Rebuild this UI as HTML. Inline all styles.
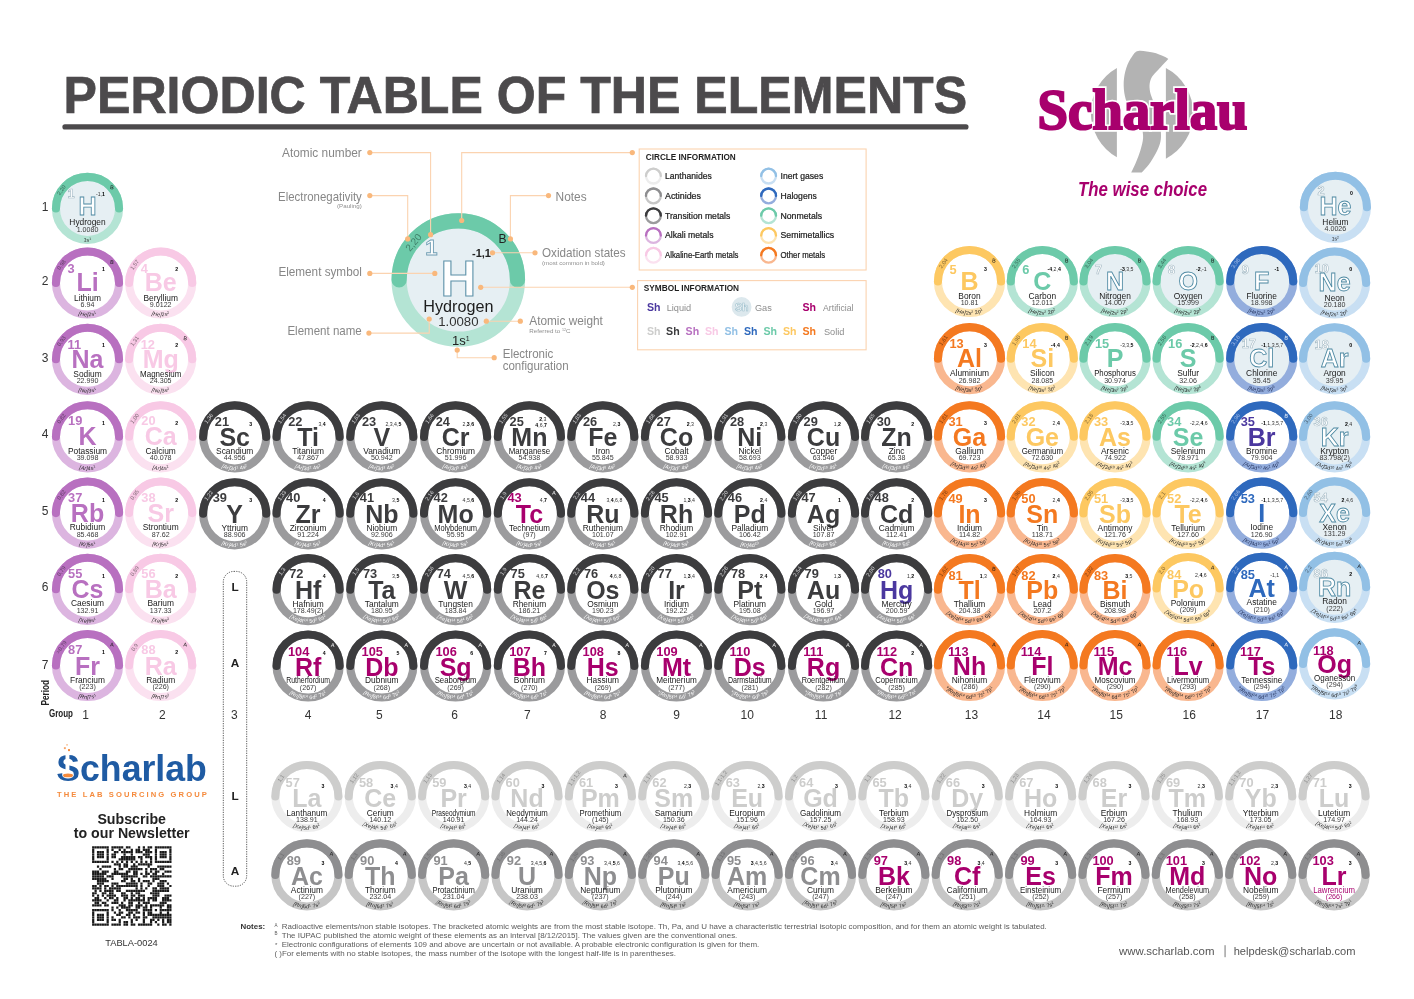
<!DOCTYPE html>
<html lang="en"><head><meta charset="utf-8"><title>Periodic Table of the Elements</title>
<style>
html,body{margin:0;padding:0;background:#fff}
body{width:1414px;height:999px;overflow:hidden;font-family:"Liberation Sans",sans-serif}
svg{display:block;will-change:transform;font-family:"Liberation Sans",sans-serif}
.r{stroke-width:8.1}
.a{stroke-width:8.1;fill:none;stroke-linecap:round}
.n{font-weight:bold;font-size:12.8px}
.s{font-weight:bold;font-size:25px;text-anchor:middle}
.g{fill:#fff;stroke:#4f8aa3;stroke-width:.85;paint-order:normal}
.n.g{stroke-width:.6;stroke:#a3b9c4}
.m{font-size:8.4px;text-anchor:middle;fill:#1a1a1a}
.w{font-size:7.1px;text-anchor:middle;fill:#3a3a3a}
.o{font-size:5.2px;text-anchor:end;fill:#333}
.b{font-weight:bold;fill:#000}
.e{font-size:5.5px;text-anchor:middle;fill:rgba(0,0,0,.5)}
.t{font-size:5.4px;text-anchor:middle}
.c{font-size:5.3px;letter-spacing:.18px;text-anchor:middle}
.i{font-style:italic}
</style></head><body>
<svg width="1414" height="999" viewBox="0 0 1414 999">
<defs><path id="ar" class="a" d="M-31.55 0A31.55 31.55 0 0 1 31.55 0"/><path id="cp" d="M-33.3 0A33.3 33.3 0 0 0 33.3 0"/></defs>
<text x="63.6" y="112.6" font-size="51.2" font-weight="bold" fill="#4c4a4c" stroke="#4c4a4c" stroke-width=".7" textLength="903.5" lengthAdjust="spacingAndGlyphs">PERIODIC TABLE OF THE ELEMENTS</text>
<line x1="64.9" y1="126.9" x2="966" y2="126.9" stroke="#4c4a4c" stroke-width="5.1" stroke-linecap="round"/>
<g fill="#b3b3b3">
<path d="M1116.9 68.0A51.2 51.2 0 0 0 1116.9 157.2Z"/>
<path d="M1165.9 68.1A51.2 51.2 0 0 1 1165.9 158.7Z"/>
<path d="M1131.2 172.5C1132.0 170.8 1134.6 165.6 1136.1 162.0C1137.6 158.4 1139.1 154.8 1140.3 150.8C1141.5 146.8 1142.9 142.1 1143.1 138.1C1143.3 134.1 1142.5 130.2 1141.7 126.9C1140.9 123.6 1140.3 121.8 1138.2 118.5C1136.1 115.2 1131.3 111.0 1129.1 107.3C1126.9 103.6 1125.8 100.3 1124.9 96.1C1124.0 91.9 1123.5 86.8 1123.7 82.1C1123.9 77.4 1124.9 72.2 1126.3 68.0C1127.7 63.8 1129.9 59.6 1131.9 56.8C1133.9 53.9 1134.7 51.6 1138.2 50.9C1141.7 50.2 1148.6 51.7 1152.9 52.6C1157.2 53.5 1161.5 55.5 1164.1 56.5C1166.7 57.5 1167.6 58.5 1168.3 58.9C1166.7 60.6 1161.2 66.5 1158.5 69.4C1155.8 72.3 1153.7 74.2 1152.2 76.5C1150.7 78.8 1150.1 80.9 1149.7 83.5C1149.3 86.1 1149.6 89.1 1150.1 91.9C1150.6 94.7 1151.9 97.3 1152.9 100.3C1154.0 103.3 1155.2 106.1 1156.4 110.1C1157.6 114.1 1159.1 119.9 1159.9 124.1C1160.7 128.3 1161.0 132.0 1161.0 135.3C1161.0 138.6 1160.8 140.6 1159.9 143.7C1159.0 146.8 1157.6 150.1 1155.7 153.6C1153.8 157.1 1151.0 161.7 1148.7 164.8C1146.4 168.0 1142.9 171.2 1141.7 172.5Z"/>
</g>
<text x="1037.5" y="129.3" font-family="'Liberation Serif',serif" font-weight="bold" font-size="58" fill="#a8006d" stroke="#fff" stroke-width="5.5" paint-order="stroke" textLength="210" lengthAdjust="spacingAndGlyphs">Scharlau</text>
<text x="1037.5" y="129.3" font-family="'Liberation Serif',serif" font-weight="bold" font-size="58" fill="#a8006d" stroke="#a8006d" stroke-width="2.2" stroke-linejoin="miter" textLength="210" lengthAdjust="spacingAndGlyphs">Scharlau</text>
<text x="1078" y="196" font-weight="bold" font-style="italic" font-size="19.5" fill="#a8006d" textLength="129" lengthAdjust="spacingAndGlyphs">The wise choice</text>
<g transform="translate(458.3,280)">
<circle r="59.19" fill="#e6eff3" stroke="#b4e4d4" stroke-width="15.2"/>
<path d="M-59.19 0A59.19 59.19 0 0 1 59.19 0" fill="none" stroke="#6ccaa9" stroke-width="15.2" stroke-linecap="round"/>
<text x="-33" y="-25" font-size="22" font-weight="bold" fill="#fff" stroke="#6f9db3" stroke-width=".9">1</text>
<text y="16" font-size="49.5" font-weight="bold" text-anchor="middle" fill="#fff" stroke="#5f93aa" stroke-width="1.1">H</text>
<text y="32.2" font-size="16.2" text-anchor="middle" fill="#1c1c1c">Hydrogen</text>
<text y="45.8" font-size="13.2" text-anchor="middle" fill="#333">1.0080</text>
<text x="32.7" y="-23" font-size="11" text-anchor="end" fill="#222" font-weight="bold">-1,1</text>
<text transform="rotate(-50)" y="-55" font-size="10" text-anchor="middle" fill="#3f7f68">2,20</text>
<text x="44.3" y="-37" font-size="12" text-anchor="middle" fill="#222">B</text>
<text x="2.5" y="64.8" font-size="13" text-anchor="middle" fill="#222">1s<tspan dy="-4" font-size="7">1</tspan></text>
</g>
<g fill="none" stroke="#fbd3b0" stroke-width="1.1">
<path d="M369.8 152.6H430.6V234.7"/>
<path d="M369.8 195.6H407.7V238.9"/>
<path d="M369.8 273.4H434.8"/>
<path d="M368.9 333.1H429.2V319"/>
<path d="M461.7 220.5V152.6H632.3"/>
<path d="M548.5 195.6H510.4V238.9"/>
<path d="M535 252.8H492.5"/>
<path d="M480.7 287.3H632.3"/>
<path d="M520.3 321.2H486.3"/>
<path d="M457.2 350.1V357.7H494.2"/>
<rect x="639.2" y="149" width="226.9" height="121"/>
<rect x="637.6" y="280.6" width="228.5" height="69.2"/>
</g>
<g fill="#f9b87c">
<circle cx="369.8" cy="152.6" r="2.6"/>
<circle cx="430.6" cy="234.7" r="2.6"/>
<circle cx="369.8" cy="195.6" r="2.6"/>
<circle cx="407.7" cy="238.9" r="2.6"/>
<circle cx="369.8" cy="273.4" r="2.6"/>
<circle cx="434.8" cy="273.4" r="2.6"/>
<circle cx="368.9" cy="333.1" r="2.6"/>
<circle cx="429.2" cy="319" r="2.6"/>
<circle cx="461.7" cy="220.5" r="2.6"/>
<circle cx="632.3" cy="152.6" r="2.6"/>
<circle cx="548.5" cy="195.6" r="2.6"/>
<circle cx="510.4" cy="238.9" r="2.6"/>
<circle cx="535" cy="252.8" r="2.6"/>
<circle cx="492.5" cy="252.8" r="2.6"/>
<circle cx="480.7" cy="287.3" r="2.6"/>
<circle cx="632.3" cy="287.3" r="2.6"/>
<circle cx="520.3" cy="321.2" r="2.6"/>
<circle cx="486.3" cy="321.2" r="2.6"/>
<circle cx="457.2" cy="350.1" r="2.6"/>
<circle cx="494.2" cy="357.7" r="2.6"/>
</g>
<g font-size="12.8" fill="#878787">
<text x="361.8" y="157.4" text-anchor="end" textLength="79.8" lengthAdjust="spacingAndGlyphs">Atomic number</text>
<text x="361.8" y="200.7" text-anchor="end" textLength="83.7" lengthAdjust="spacingAndGlyphs">Electronegativity</text>
<text x="361.8" y="275.7" text-anchor="end" textLength="83.4" lengthAdjust="spacingAndGlyphs">Element symbol</text>
<text x="361.8" y="335.1" text-anchor="end" textLength="74.4" lengthAdjust="spacingAndGlyphs">Element name</text>
<text x="555.6" y="200.7" textLength="31.1" lengthAdjust="spacingAndGlyphs">Notes</text>
<text x="542" y="256.7" textLength="83.7" lengthAdjust="spacingAndGlyphs">Oxidation states</text>
<text x="529.3" y="325.2" textLength="73.5" lengthAdjust="spacingAndGlyphs">Atomic weight</text>
<text x="502.7" y="357.9" textLength="50.6" lengthAdjust="spacingAndGlyphs">Electronic</text>
<text x="502.7" y="369.7" textLength="66" lengthAdjust="spacingAndGlyphs">configuration</text>
</g>
<g font-size="6.2" fill="#8f8f8f">
<text x="361.8" y="208.2" text-anchor="end">(Pauling)</text>
<text x="542" y="264.6">(most common in bold)</text>
<text x="529.3" y="332.9">Referred to <tspan dy="-1.6" font-size="3.6">12</tspan><tspan dy="1.6">C</tspan></text>
</g>
<text x="645.8" y="159.8" font-size="8.2" font-weight="bold" fill="#1e1e1e" textLength="90" lengthAdjust="spacingAndGlyphs">CIRCLE INFORMATION</text>
<text x="643.8" y="290.8" font-size="8.2" font-weight="bold" fill="#1e1e1e" textLength="95.3" lengthAdjust="spacingAndGlyphs">SYMBOL INFORMATION</text>
<g transform="translate(653.4,176.1)" fill="none" stroke-width="2.3"><circle r="7.4" stroke="#ededed"/><path d="M-7.4 0A7.4 7.4 0 0 1 7.4 0" stroke="#cdcdcc" stroke-linecap="round"/></g>
<text x="665" y="179" font-size="8.2" fill="#222" stroke="#222" stroke-width=".22" textLength="46.7" lengthAdjust="spacingAndGlyphs">Lanthanides</text>
<g transform="translate(653.4,195.9)" fill="none" stroke-width="2.3"><circle r="7.4" stroke="#c6c6c6"/><path d="M-7.4 0A7.4 7.4 0 0 1 7.4 0" stroke="#8e8e90" stroke-linecap="round"/></g>
<text x="665" y="198.8" font-size="8.2" fill="#222" stroke="#222" stroke-width=".22" textLength="36" lengthAdjust="spacingAndGlyphs">Actinides</text>
<g transform="translate(653.4,215.7)" fill="none" stroke-width="2.3"><circle r="7.4" stroke="#9b9b9d"/><path d="M-7.4 0A7.4 7.4 0 0 1 7.4 0" stroke="#3c3c3e" stroke-linecap="round"/></g>
<text x="665" y="218.6" font-size="8.2" fill="#222" stroke="#222" stroke-width=".22" textLength="65.3" lengthAdjust="spacingAndGlyphs">Transition metals</text>
<g transform="translate(653.4,235.5)" fill="none" stroke-width="2.3"><circle r="7.4" stroke="#dcb5e0"/><path d="M-7.4 0A7.4 7.4 0 0 1 7.4 0" stroke="#b870c0" stroke-linecap="round"/></g>
<text x="665" y="238.4" font-size="8.2" fill="#222" stroke="#222" stroke-width=".22" textLength="48.6" lengthAdjust="spacingAndGlyphs">Alkali metals</text>
<g transform="translate(653.4,255.3)" fill="none" stroke-width="2.3"><circle r="7.4" stroke="#fbe1f0"/><path d="M-7.4 0A7.4 7.4 0 0 1 7.4 0" stroke="#f8c9e5" stroke-linecap="round"/></g>
<text x="665" y="258.2" font-size="8.2" fill="#222" stroke="#222" stroke-width=".22" textLength="73.5" lengthAdjust="spacingAndGlyphs">Alkaline-Earth metals</text>
<g transform="translate(768.6,176.1)" fill="none" stroke-width="2.3"><circle r="7.4" stroke="#c8dff3"/><path d="M-7.4 0A7.4 7.4 0 0 1 7.4 0" stroke="#92c0e5" stroke-linecap="round"/></g>
<text x="780.5" y="179" font-size="8.2" fill="#222" stroke="#222" stroke-width=".22" textLength="42.7" lengthAdjust="spacingAndGlyphs">Inert gases</text>
<g transform="translate(768.6,195.9)" fill="none" stroke-width="2.3"><circle r="7.4" stroke="#93addd"/><path d="M-7.4 0A7.4 7.4 0 0 1 7.4 0" stroke="#2e69bd" stroke-linecap="round"/></g>
<text x="780.5" y="198.8" font-size="8.2" fill="#222" stroke="#222" stroke-width=".22" textLength="36.2" lengthAdjust="spacingAndGlyphs">Halogens</text>
<g transform="translate(768.6,215.7)" fill="none" stroke-width="2.3"><circle r="7.4" stroke="#b4e4d4"/><path d="M-7.4 0A7.4 7.4 0 0 1 7.4 0" stroke="#6ccaa9" stroke-linecap="round"/></g>
<text x="780.5" y="218.6" font-size="8.2" fill="#222" stroke="#222" stroke-width=".22" textLength="41.6" lengthAdjust="spacingAndGlyphs">Nonmetals</text>
<g transform="translate(768.6,235.5)" fill="none" stroke-width="2.3"><circle r="7.4" stroke="#fee4b1"/><path d="M-7.4 0A7.4 7.4 0 0 1 7.4 0" stroke="#fdc861" stroke-linecap="round"/></g>
<text x="780.5" y="238.4" font-size="8.2" fill="#222" stroke="#222" stroke-width=".22" textLength="53.7" lengthAdjust="spacingAndGlyphs">Semimetallics</text>
<g transform="translate(768.6,255.3)" fill="none" stroke-width="2.3"><circle r="7.4" stroke="#f9b78f"/><path d="M-7.4 0A7.4 7.4 0 0 1 7.4 0" stroke="#f47920" stroke-linecap="round"/></g>
<text x="780.5" y="258.2" font-size="8.2" fill="#222" stroke="#222" stroke-width=".22" textLength="44.7" lengthAdjust="spacingAndGlyphs">Other metals</text>
<g font-size="10.6" font-weight="bold">
<text x="646.9" y="311" fill="#4b389f">Sh</text>
<circle cx="741.6" cy="306.9" r="9.9" fill="#dce8ed"/>
<text x="734.9" y="311" fill="#f4f8fa" stroke="#9dbfcc" stroke-width=".6">Sh</text>
<text x="802.5" y="311" fill="#a8006d">Sh</text>
<text x="646.9" y="335" fill="#cdcdcc">Sh</text>
<text x="666.1" y="335" fill="#3c3c3e">Sh</text>
<text x="685.6" y="335" fill="#b870c0">Sh</text>
<text x="704.9" y="335" fill="#f8c9e5">Sh</text>
<text x="724.4" y="335" fill="#92c0e5">Sh</text>
<text x="743.9" y="335" fill="#2e69bd">Sh</text>
<text x="763.4" y="335" fill="#6ccaa9">Sh</text>
<text x="782.9" y="335" fill="#fdc861">Sh</text>
<text x="802.5" y="335" fill="#f47920">Sh</text>
</g>
<g font-size="9.2" fill="#8c8c8c">
<text x="666.7" y="311">Liquid</text>
<text x="754.9" y="311">Gas</text>
<text x="823.1" y="311" textLength="30.3" lengthAdjust="spacingAndGlyphs">Artificial</text>
<text x="823.9" y="335.2">Solid</text>
</g>
<g transform="translate(87.5,208.4)"><circle r="31.55" class="r" stroke="#b4e4d4" fill="#e6eff3"/><use href="#ar" stroke="#6ccaa9"/><text class="n g" x="-20" y="-10.3">1</text><text class="s g" y="6.9">H</text><text class="m" y="16.7">Hydrogen</text><text class="w" y="23.5">1.0080</text><text class="o" x="17.5" y="-12.2">-1,<tspan class="b">1</tspan></text><text class="e" transform="rotate(-55)" y="-30">2,20</text><text class="t" transform="translate(24.5,-20.8) rotate(6)" y="1.7" fill="#111">B</text><text class="c" fill="#222"><textPath href="#cp" startOffset="50%">1s<tspan dy="-1.7" font-size="3.6">1</tspan></textPath></text></g>
<g transform="translate(1335.4,207.3)"><circle r="31.55" class="r" stroke="#c8dff3" fill="#e6eff3"/><use href="#ar" stroke="#92c0e5"/><text class="n g" x="-17.9" y="-12">2</text><text class="s g" y="7.7">He</text><text class="m" y="17.4">Helium</text><text class="w" y="23.7">4.0026</text><text class="o" x="17.5" y="-12.2"><tspan class="b">0</tspan></text><text class="c" fill="#222"><textPath href="#cp" startOffset="50%">1s<tspan dy="-1.7" font-size="3.6">2</tspan></textPath></text></g>
<g transform="translate(87.5,283)"><circle r="31.55" class="r" stroke="#dcb5e0" fill="#fff"/><use href="#ar" stroke="#b870c0"/><text class="n" fill="#b870c0" x="-20" y="-10.3">3</text><text class="s" fill="#b870c0" y="8.2">Li</text><text class="m" y="17.6">Lithium</text><text class="w" y="24">6.94</text><text class="o" x="17.5" y="-12.2"><tspan class="b">1</tspan></text><text class="e" transform="rotate(-55)" y="-30">0,98</text><text class="t" transform="translate(24.5,-20.8) rotate(6)" y="1.7" fill="#111">B</text><text class="c" fill="#222"><textPath href="#cp" startOffset="50%"><tspan class="i">[He]</tspan>2s<tspan dy="-1.7" font-size="3.6">1</tspan></textPath></text></g>
<g transform="translate(160.7,283)"><circle r="31.55" class="r" stroke="#fbe1f0" fill="#fff"/><use href="#ar" stroke="#f8c9e5"/><text class="n" fill="#f8c9e5" x="-20" y="-10.3">4</text><text class="s" fill="#f8c9e5" y="8.2">Be</text><text class="m" y="17.6">Beryllium</text><text class="w" y="24">9.0122</text><text class="o" x="17.5" y="-12.2"><tspan class="b">2</tspan></text><text class="e" transform="rotate(-55)" y="-30">1,57</text><text class="c" fill="#222"><textPath href="#cp" startOffset="50%"><tspan class="i">[He]</tspan>2s<tspan dy="-1.7" font-size="3.6">2</tspan></textPath></text></g>
<g transform="translate(969.5,281.5)"><circle r="31.55" class="r" stroke="#fee4b1" fill="#fff"/><use href="#ar" stroke="#fdc861"/><text class="n" fill="#fdc861" x="-20" y="-7.9">5</text><text class="s" fill="#fdc861" y="8.9">B</text><text class="m" y="17.9">Boron</text><text class="w" y="23">10.81</text><text class="o" x="17.5" y="-10.2"><tspan class="b">3</tspan></text><text class="e" transform="rotate(-55)" y="-30">2,04</text><text class="t" transform="translate(24.5,-20.8) rotate(6)" y="1.7" fill="#111">B</text><text class="c" fill="#222"><textPath href="#cp" startOffset="50%"><tspan class="i">[He]</tspan>2s<tspan dy="-1.7" font-size="3.6">2</tspan><tspan dy="1.7"> 2p</tspan><tspan dy="-1.7" font-size="3.6">1</tspan></textPath></text></g>
<g transform="translate(1042.3,281.5)"><circle r="31.55" class="r" stroke="#b4e4d4" fill="#fff"/><use href="#ar" stroke="#6ccaa9"/><text class="n" fill="#6ccaa9" x="-20" y="-7.9">6</text><text class="s" fill="#6ccaa9" y="8.9">C</text><text class="m" y="17.9">Carbon</text><text class="w" y="23">12.011</text><text class="o" x="18.5" y="-10.2"><tspan class="b">-4</tspan>,2,<tspan class="b">4</tspan></text><text class="e" transform="rotate(-55)" y="-30">2,55</text><text class="t" transform="translate(24.5,-20.8) rotate(6)" y="1.7" fill="#111">B</text><text class="c" fill="#222"><textPath href="#cp" startOffset="50%"><tspan class="i">[He]</tspan>2s<tspan dy="-1.7" font-size="3.6">2</tspan><tspan dy="1.7"> 2p</tspan><tspan dy="-1.7" font-size="3.6">2</tspan></textPath></text></g>
<g transform="translate(1115,281.5)"><circle r="31.55" class="r" stroke="#b4e4d4" fill="#e6eff3"/><use href="#ar" stroke="#6ccaa9"/><text class="n g" x="-20" y="-7.9">7</text><text class="s g" y="8.9">N</text><text class="m" y="17.9">Nitrogen</text><text class="w" y="23">14.007</text><text class="o" x="18.5" y="-10.2"><tspan class="b">-3</tspan>,3,5</text><text class="e" transform="rotate(-55)" y="-30">3,04</text><text class="t" transform="translate(24.5,-20.8) rotate(6)" y="1.7" fill="#111">B</text><text class="c" fill="#222"><textPath href="#cp" startOffset="50%"><tspan class="i">[He]</tspan>2s<tspan dy="-1.7" font-size="3.6">2</tspan><tspan dy="1.7"> 2p</tspan><tspan dy="-1.7" font-size="3.6">3</tspan></textPath></text></g>
<g transform="translate(1188.1,281.5)"><circle r="31.55" class="r" stroke="#b4e4d4" fill="#e6eff3"/><use href="#ar" stroke="#6ccaa9"/><text class="n g" x="-20" y="-7.9">8</text><text class="s g" y="8.9">O</text><text class="m" y="17.9">Oxygen</text><text class="w" y="23">15.999</text><text class="o" x="18.5" y="-10.2"><tspan class="b">-2</tspan>,-1</text><text class="e" transform="rotate(-55)" y="-30">3,44</text><text class="t" transform="translate(24.5,-20.8) rotate(6)" y="1.7" fill="#111">B</text><text class="c" fill="#222"><textPath href="#cp" startOffset="50%"><tspan class="i">[He]</tspan>2s<tspan dy="-1.7" font-size="3.6">2</tspan><tspan dy="1.7"> 2p</tspan><tspan dy="-1.7" font-size="3.6">4</tspan></textPath></text></g>
<g transform="translate(1261.7,281.5)"><circle r="31.55" class="r" stroke="#93addd" fill="#e6eff3"/><use href="#ar" stroke="#2e69bd"/><text class="n g" x="-20" y="-7.9">9</text><text class="s g" y="8.9">F</text><text class="m" y="17.9">Fluorine</text><text class="w" y="23">18.998</text><text class="o" x="17.5" y="-10.2"><tspan class="b">-1</tspan></text><text class="e" transform="rotate(-55)" y="-30" style="fill:#9fb9e6">3,98</text><text class="c" fill="#1d2b55"><textPath href="#cp" startOffset="50%"><tspan class="i">[He]</tspan>2s<tspan dy="-1.7" font-size="3.6">2</tspan><tspan dy="1.7"> 2p</tspan><tspan dy="-1.7" font-size="3.6">5</tspan></textPath></text></g>
<g transform="translate(1334.6,283)"><circle r="31.55" class="r" stroke="#c8dff3" fill="#e6eff3"/><use href="#ar" stroke="#92c0e5"/><text class="n g" x="-20" y="-10.3">10</text><text class="s g" y="8.2">Ne</text><text class="m" y="17.6">Neon</text><text class="w" y="24">20.180</text><text class="o" x="17.5" y="-12.2"><tspan class="b">0</tspan></text><text class="c" fill="#222"><textPath href="#cp" startOffset="50%"><tspan class="i">[He]</tspan>2s<tspan dy="-1.7" font-size="3.6">2</tspan><tspan dy="1.7"> 2p</tspan><tspan dy="-1.7" font-size="3.6">6</tspan></textPath></text></g>
<g transform="translate(87.5,359.3)"><circle r="31.55" class="r" stroke="#dcb5e0" fill="#fff"/><use href="#ar" stroke="#b870c0"/><text class="n" fill="#b870c0" x="-20" y="-10.3">11</text><text class="s" fill="#b870c0" y="8.2">Na</text><text class="m" y="17.6">Sodium</text><text class="w" y="24">22.990</text><text class="o" x="17.5" y="-12.2"><tspan class="b">1</tspan></text><text class="e" transform="rotate(-55)" y="-30">0,93</text><text class="c" fill="#222"><textPath href="#cp" startOffset="50%"><tspan class="i">[Ne]</tspan>3s<tspan dy="-1.7" font-size="3.6">1</tspan></textPath></text></g>
<g transform="translate(160.7,359.3)"><circle r="31.55" class="r" stroke="#fbe1f0" fill="#fff"/><use href="#ar" stroke="#f8c9e5"/><text class="n" fill="#f8c9e5" x="-20" y="-10.3">12</text><text class="s" fill="#f8c9e5" y="8.2">Mg</text><text class="m" y="17.6" textLength="41.2" lengthAdjust="spacingAndGlyphs">Magnesium</text><text class="w" y="24">24.305</text><text class="o" x="17.5" y="-12.2"><tspan class="b">2</tspan></text><text class="e" transform="rotate(-55)" y="-30">1,31</text><text class="t" transform="translate(24.5,-20.8) rotate(6)" y="1.7" fill="#111">B</text><text class="c" fill="#222"><textPath href="#cp" startOffset="50%"><tspan class="i">[Ne]</tspan>3s<tspan dy="-1.7" font-size="3.6">2</tspan></textPath></text></g>
<g transform="translate(969.5,358.7)"><circle r="31.55" class="r" stroke="#f9b78f" fill="#fff"/><use href="#ar" stroke="#f47920"/><text class="n" fill="#f47920" x="-20" y="-10.3">13</text><text class="s" fill="#f47920" y="8.2">Al</text><text class="m" y="17.6">Aluminium</text><text class="w" y="24">26.982</text><text class="o" x="17.5" y="-12.2"><tspan class="b">3</tspan></text><text class="e" transform="rotate(-55)" y="-30">1,61</text><text class="c" fill="#222"><textPath href="#cp" startOffset="50%"><tspan class="i">[Ne]</tspan>3s<tspan dy="-1.7" font-size="3.6">2</tspan><tspan dy="1.7"> 3p</tspan><tspan dy="-1.7" font-size="3.6">1</tspan></textPath></text></g>
<g transform="translate(1042.3,358.7)"><circle r="31.55" class="r" stroke="#fee4b1" fill="#fff"/><use href="#ar" stroke="#fdc861"/><text class="n" fill="#fdc861" x="-20" y="-10.3">14</text><text class="s" fill="#fdc861" y="8.2">Si</text><text class="m" y="17.6">Silicon</text><text class="w" y="24">28.085</text><text class="o" x="17.5" y="-12.2"><tspan class="b">-4</tspan>,<tspan class="b">4</tspan></text><text class="e" transform="rotate(-55)" y="-30">1,90</text><text class="t" transform="translate(24.5,-20.8) rotate(6)" y="1.7" fill="#111">B</text><text class="c" fill="#222"><textPath href="#cp" startOffset="50%"><tspan class="i">[Ne]</tspan>3s<tspan dy="-1.7" font-size="3.6">2</tspan><tspan dy="1.7"> 3p</tspan><tspan dy="-1.7" font-size="3.6">2</tspan></textPath></text></g>
<g transform="translate(1115,358.7)"><circle r="31.55" class="r" stroke="#b4e4d4" fill="#fff"/><use href="#ar" stroke="#6ccaa9"/><text class="n" fill="#6ccaa9" x="-20" y="-10.3">15</text><text class="s" fill="#6ccaa9" y="8.2">P</text><text class="m" y="17.6" textLength="41.69" lengthAdjust="spacingAndGlyphs">Phosphorus</text><text class="w" y="24">30.974</text><text class="o" x="18.5" y="-12.2">-3,3,<tspan class="b">5</tspan></text><text class="e" transform="rotate(-55)" y="-30">2,19</text><text class="c" fill="#222"><textPath href="#cp" startOffset="50%"><tspan class="i">[Ne]</tspan>3s<tspan dy="-1.7" font-size="3.6">2</tspan><tspan dy="1.7"> 3p</tspan><tspan dy="-1.7" font-size="3.6">3</tspan></textPath></text></g>
<g transform="translate(1188.1,358.7)"><circle r="31.55" class="r" stroke="#b4e4d4" fill="#fff"/><use href="#ar" stroke="#6ccaa9"/><text class="n" fill="#6ccaa9" x="-20" y="-10.3">16</text><text class="s" fill="#6ccaa9" y="8.2">S</text><text class="m" y="17.6">Sulfur</text><text class="w" y="24">32.06</text><text class="o" x="19.5" y="-12.2"><tspan class="b">-2</tspan>,2,4,<tspan class="b">6</tspan></text><text class="e" transform="rotate(-55)" y="-30">2,58</text><text class="t" transform="translate(24.5,-20.8) rotate(6)" y="1.7" fill="#111">B</text><text class="c" fill="#222"><textPath href="#cp" startOffset="50%"><tspan class="i">[Ne]</tspan>3s<tspan dy="-1.7" font-size="3.6">2</tspan><tspan dy="1.7"> 3p</tspan><tspan dy="-1.7" font-size="3.6">4</tspan></textPath></text></g>
<g transform="translate(1261.7,358.7)"><circle r="31.55" class="r" stroke="#93addd" fill="#e6eff3"/><use href="#ar" stroke="#2e69bd"/><text class="n g" x="-20" y="-10.3">17</text><text class="s g" y="8.2">Cl</text><text class="m" y="17.6">Chlorine</text><text class="w" y="24">35.45</text><text class="o" x="21.5" y="-12.2"><tspan class="b">-1</tspan>,1,3,5,7</text><text class="e" transform="rotate(-55)" y="-30" style="fill:#9fb9e6">3,16</text><text class="t" transform="translate(24.5,-20.8) rotate(6)" y="1.7" fill="#fff">B</text><text class="c" fill="#1d2b55"><textPath href="#cp" startOffset="50%"><tspan class="i">[Ne]</tspan>3s<tspan dy="-1.7" font-size="3.6">2</tspan><tspan dy="1.7"> 3p</tspan><tspan dy="-1.7" font-size="3.6">5</tspan></textPath></text></g>
<g transform="translate(1334.6,358.8)"><circle r="31.55" class="r" stroke="#c8dff3" fill="#e6eff3"/><use href="#ar" stroke="#92c0e5"/><text class="n g" x="-20" y="-10.3">18</text><text class="s g" y="8.2">Ar</text><text class="m" y="17.6">Argon</text><text class="w" y="24">39.95</text><text class="o" x="17.5" y="-12.2"><tspan class="b">0</tspan></text><text class="c" fill="#222"><textPath href="#cp" startOffset="50%"><tspan class="i">[Ne]</tspan>3s<tspan dy="-1.7" font-size="3.6">2</tspan><tspan dy="1.7"> 3p</tspan><tspan dy="-1.7" font-size="3.6">6</tspan></textPath></text></g>
<g transform="translate(87.5,436.8)"><circle r="31.55" class="r" stroke="#dcb5e0" fill="#fff"/><use href="#ar" stroke="#b870c0"/><text class="n" fill="#b870c0" x="-19.4" y="-11.5">19</text><text class="s" fill="#b870c0" y="8.4">K</text><text class="m" y="17.1">Potassium</text><text class="w" y="23.6">39.098</text><text class="o" x="17.5" y="-11.4"><tspan class="b">1</tspan></text><text class="e" transform="rotate(-55)" y="-30">0,82</text><text class="c" fill="#222"><textPath href="#cp" startOffset="50%"><tspan class="i">[Ar]</tspan>4s<tspan dy="-1.7" font-size="3.6">1</tspan></textPath></text></g>
<g transform="translate(160.7,436.8)"><circle r="31.55" class="r" stroke="#fbe1f0" fill="#fff"/><use href="#ar" stroke="#f8c9e5"/><text class="n" fill="#f8c9e5" x="-19.4" y="-11.5">20</text><text class="s" fill="#f8c9e5" y="8.4">Ca</text><text class="m" y="17.1">Calcium</text><text class="w" y="23.6">40.078</text><text class="o" x="17.5" y="-11.4"><tspan class="b">2</tspan></text><text class="e" transform="rotate(-55)" y="-30">1,00</text><text class="c" fill="#222"><textPath href="#cp" startOffset="50%"><tspan class="i">[Ar]</tspan>4s<tspan dy="-1.7" font-size="3.6">2</tspan></textPath></text></g>
<g transform="translate(234.7,436.9)"><circle r="31.55" class="r" stroke="#9b9b9d" fill="#fff"/><use href="#ar" stroke="#3c3c3e"/><text class="n" fill="#3c3c3e" x="-19.9" y="-10.5">21</text><text class="s" fill="#3c3c3e" y="9.2">Sc</text><text class="m" y="17.1">Scandium</text><text class="w" y="23.6">44.956</text><text class="o" x="17.5" y="-11.4"><tspan class="b">3</tspan></text><text class="e" transform="rotate(-55)" y="-30" style="fill:#d6d6d8">1,36</text><text class="c" fill="#fff"><textPath href="#cp" startOffset="50%"><tspan class="i">[Ar]</tspan>3d<tspan dy="-1.7" font-size="3.6">1</tspan><tspan dy="1.7"> 4s</tspan><tspan dy="-1.7" font-size="3.6">2</tspan></textPath></text></g>
<g transform="translate(308.1,436.9)"><circle r="31.55" class="r" stroke="#9b9b9d" fill="#fff"/><use href="#ar" stroke="#3c3c3e"/><text class="n" fill="#3c3c3e" x="-19.9" y="-10.5">22</text><text class="s" fill="#3c3c3e" y="9.2">Ti</text><text class="m" y="17.1">Titanium</text><text class="w" y="23.6">47.867</text><text class="o" x="17.5" y="-11.4">3,<tspan class="b">4</tspan></text><text class="e" transform="rotate(-55)" y="-30" style="fill:#d6d6d8">1,54</text><text class="c" fill="#fff"><textPath href="#cp" startOffset="50%"><tspan class="i">[Ar]</tspan>3d<tspan dy="-1.7" font-size="3.6">2</tspan><tspan dy="1.7"> 4s</tspan><tspan dy="-1.7" font-size="3.6">2</tspan></textPath></text></g>
<g transform="translate(381.8,436.9)"><circle r="31.55" class="r" stroke="#9b9b9d" fill="#fff"/><use href="#ar" stroke="#3c3c3e"/><text class="n" fill="#3c3c3e" x="-19.9" y="-10.5">23</text><text class="s" fill="#3c3c3e" y="9.2">V</text><text class="m" y="17.1">Vanadium</text><text class="w" y="23.6">50.942</text><text class="o" x="19.5" y="-11.4">2,3,4,<tspan class="b">5</tspan></text><text class="e" transform="rotate(-55)" y="-30" style="fill:#d6d6d8">1,63</text><text class="c" fill="#fff"><textPath href="#cp" startOffset="50%"><tspan class="i">[Ar]</tspan>3d<tspan dy="-1.7" font-size="3.6">3</tspan><tspan dy="1.7"> 4s</tspan><tspan dy="-1.7" font-size="3.6">2</tspan></textPath></text></g>
<g transform="translate(455.6,436.9)"><circle r="31.55" class="r" stroke="#9b9b9d" fill="#fff"/><use href="#ar" stroke="#3c3c3e"/><text class="n" fill="#3c3c3e" x="-19.9" y="-10.5">24</text><text class="s" fill="#3c3c3e" y="9.2">Cr</text><text class="m" y="17.1">Chromium</text><text class="w" y="23.6">51.996</text><text class="o" x="18.5" y="-11.4">2,<tspan class="b">3</tspan>,<tspan class="b">6</tspan></text><text class="e" transform="rotate(-55)" y="-30" style="fill:#d6d6d8">1,66</text><text class="c" fill="#fff"><textPath href="#cp" startOffset="50%"><tspan class="i">[Ar]</tspan>3d<tspan dy="-1.7" font-size="3.6">5</tspan><tspan dy="1.7"> 4s</tspan><tspan dy="-1.7" font-size="3.6">1</tspan></textPath></text></g>
<g transform="translate(529.4,436.9)"><circle r="31.55" class="r" stroke="#9b9b9d" fill="#fff"/><use href="#ar" stroke="#3c3c3e"/><text class="n" fill="#3c3c3e" x="-19.9" y="-10.5">25</text><text class="s" fill="#3c3c3e" y="9.2">Mn</text><text class="m" y="17.1" textLength="41.36" lengthAdjust="spacingAndGlyphs">Manganese</text><text class="w" y="23.6">54.938</text><text class="o" x="17" y="-15.6"><tspan class="b">2</tspan>,3</text><text class="o" x="17.5" y="-10"><tspan class="b">4</tspan>,6,<tspan class="b">7</tspan></text><text class="e" transform="rotate(-55)" y="-30" style="fill:#d6d6d8">1,55</text><text class="c" fill="#fff"><textPath href="#cp" startOffset="50%"><tspan class="i">[Ar]</tspan>3d<tspan dy="-1.7" font-size="3.6">5</tspan><tspan dy="1.7"> 4s</tspan><tspan dy="-1.7" font-size="3.6">2</tspan></textPath></text></g>
<g transform="translate(602.8,436.9)"><circle r="31.55" class="r" stroke="#9b9b9d" fill="#fff"/><use href="#ar" stroke="#3c3c3e"/><text class="n" fill="#3c3c3e" x="-19.9" y="-10.5">26</text><text class="s" fill="#3c3c3e" y="9.2">Fe</text><text class="m" y="17.1">Iron</text><text class="w" y="23.6">55.845</text><text class="o" x="17.5" y="-11.4">2,<tspan class="b">3</tspan></text><text class="e" transform="rotate(-55)" y="-30" style="fill:#d6d6d8">1,83</text><text class="c" fill="#fff"><textPath href="#cp" startOffset="50%"><tspan class="i">[Ar]</tspan>3d<tspan dy="-1.7" font-size="3.6">6</tspan><tspan dy="1.7"> 4s</tspan><tspan dy="-1.7" font-size="3.6">2</tspan></textPath></text></g>
<g transform="translate(676.5,436.9)"><circle r="31.55" class="r" stroke="#9b9b9d" fill="#fff"/><use href="#ar" stroke="#3c3c3e"/><text class="n" fill="#3c3c3e" x="-19.9" y="-10.5">27</text><text class="s" fill="#3c3c3e" y="9.2">Co</text><text class="m" y="17.1">Cobalt</text><text class="w" y="23.6">58.933</text><text class="o" x="17.5" y="-11.4"><tspan class="b">2</tspan>,3</text><text class="e" transform="rotate(-55)" y="-30" style="fill:#d6d6d8">1,88</text><text class="c" fill="#fff"><textPath href="#cp" startOffset="50%"><tspan class="i">[Ar]</tspan>3d<tspan dy="-1.7" font-size="3.6">7</tspan><tspan dy="1.7"> 4s</tspan><tspan dy="-1.7" font-size="3.6">2</tspan></textPath></text></g>
<g transform="translate(749.8,436.9)"><circle r="31.55" class="r" stroke="#9b9b9d" fill="#fff"/><use href="#ar" stroke="#3c3c3e"/><text class="n" fill="#3c3c3e" x="-19.9" y="-10.5">28</text><text class="s" fill="#3c3c3e" y="9.2">Ni</text><text class="m" y="17.1">Nickel</text><text class="w" y="23.6">58.693</text><text class="o" x="17.5" y="-11.4"><tspan class="b">2</tspan>,3</text><text class="e" transform="rotate(-55)" y="-30" style="fill:#d6d6d8">1,91</text><text class="c" fill="#fff"><textPath href="#cp" startOffset="50%"><tspan class="i">[Ar]</tspan>3d<tspan dy="-1.7" font-size="3.6">8</tspan><tspan dy="1.7"> 4s</tspan><tspan dy="-1.7" font-size="3.6">2</tspan></textPath></text></g>
<g transform="translate(823.5,436.9)"><circle r="31.55" class="r" stroke="#9b9b9d" fill="#fff"/><use href="#ar" stroke="#3c3c3e"/><text class="n" fill="#3c3c3e" x="-19.9" y="-10.5">29</text><text class="s" fill="#3c3c3e" y="9.2">Cu</text><text class="m" y="17.1">Copper</text><text class="w" y="23.6">63.546</text><text class="o" x="17.5" y="-11.4">1,<tspan class="b">2</tspan></text><text class="e" transform="rotate(-55)" y="-30" style="fill:#d6d6d8">1,90</text><text class="c" fill="#fff"><textPath href="#cp" startOffset="50%"><tspan class="i">[Ar]</tspan>3d<tspan dy="-1.7" font-size="3.6">10</tspan><tspan dy="1.7"> 4s</tspan><tspan dy="-1.7" font-size="3.6">1</tspan></textPath></text></g>
<g transform="translate(896.6,436.9)"><circle r="31.55" class="r" stroke="#9b9b9d" fill="#fff"/><use href="#ar" stroke="#3c3c3e"/><text class="n" fill="#3c3c3e" x="-19.9" y="-10.5">30</text><text class="s" fill="#3c3c3e" y="9.2">Zn</text><text class="m" y="17.1">Zinc</text><text class="w" y="23.6">65.38</text><text class="o" x="17.5" y="-11.4"><tspan class="b">2</tspan></text><text class="e" transform="rotate(-55)" y="-30" style="fill:#d6d6d8">1,65</text><text class="c" fill="#fff"><textPath href="#cp" startOffset="50%"><tspan class="i">[Ar]</tspan>3d<tspan dy="-1.7" font-size="3.6">10</tspan><tspan dy="1.7"> 4s</tspan><tspan dy="-1.7" font-size="3.6">2</tspan></textPath></text></g>
<g transform="translate(969.5,436.8)"><circle r="31.55" class="r" stroke="#f9b78f" fill="#fff"/><use href="#ar" stroke="#f47920"/><text class="n" fill="#f47920" x="-21" y="-10.9">31</text><text class="s" fill="#f47920" y="9">Ga</text><text class="m" y="17.1">Gallium</text><text class="w" y="23.6">69.723</text><text class="o" x="17.5" y="-11.4"><tspan class="b">3</tspan></text><text class="e" transform="rotate(-55)" y="-30">1,81</text><text class="c" fill="#222"><textPath href="#cp" startOffset="50%"><tspan class="i">[Ar]</tspan>3d<tspan dy="-1.7" font-size="3.6">10</tspan><tspan dy="1.7"> 4s</tspan><tspan dy="-1.7" font-size="3.6">2</tspan><tspan dy="1.7"> 4p</tspan><tspan dy="-1.7" font-size="3.6">1</tspan></textPath></text></g>
<g transform="translate(1042.3,436.8)"><circle r="31.55" class="r" stroke="#fee4b1" fill="#fff"/><use href="#ar" stroke="#fdc861"/><text class="n" fill="#fdc861" x="-21" y="-10.9">32</text><text class="s" fill="#fdc861" y="9">Ge</text><text class="m" y="17.1" textLength="41.36" lengthAdjust="spacingAndGlyphs">Germanium</text><text class="w" y="23.6">72.630</text><text class="o" x="17.5" y="-11.4">2,<tspan class="b">4</tspan></text><text class="e" transform="rotate(-55)" y="-30">2,01</text><text class="c" fill="#222"><textPath href="#cp" startOffset="50%"><tspan class="i">[Ar]</tspan>3d<tspan dy="-1.7" font-size="3.6">10</tspan><tspan dy="1.7"> 4s</tspan><tspan dy="-1.7" font-size="3.6">2</tspan><tspan dy="1.7"> 4p</tspan><tspan dy="-1.7" font-size="3.6">2</tspan></textPath></text></g>
<g transform="translate(1115,436.8)"><circle r="31.55" class="r" stroke="#fee4b1" fill="#fff"/><use href="#ar" stroke="#fdc861"/><text class="n" fill="#fdc861" x="-21" y="-10.9">33</text><text class="s" fill="#fdc861" y="9">As</text><text class="m" y="17.1">Arsenic</text><text class="w" y="23.6">74.922</text><text class="o" x="18.5" y="-11.4">-3,<tspan class="b">3</tspan>,5</text><text class="e" transform="rotate(-55)" y="-30">2,18</text><text class="c" fill="#222"><textPath href="#cp" startOffset="50%"><tspan class="i">[Ar]</tspan>3d<tspan dy="-1.7" font-size="3.6">10</tspan><tspan dy="1.7"> 4s</tspan><tspan dy="-1.7" font-size="3.6">2</tspan><tspan dy="1.7"> 4p</tspan><tspan dy="-1.7" font-size="3.6">3</tspan></textPath></text></g>
<g transform="translate(1188.1,436.8)"><circle r="31.55" class="r" stroke="#b4e4d4" fill="#fff"/><use href="#ar" stroke="#6ccaa9"/><text class="n" fill="#6ccaa9" x="-21" y="-10.9">34</text><text class="s" fill="#6ccaa9" y="9">Se</text><text class="m" y="17.1">Selenium</text><text class="w" y="23.6">78.971</text><text class="o" x="19.5" y="-11.4">-2,2,<tspan class="b">4</tspan>,6</text><text class="e" transform="rotate(-55)" y="-30">2,55</text><text class="c" fill="#222"><textPath href="#cp" startOffset="50%"><tspan class="i">[Ar]</tspan>3d<tspan dy="-1.7" font-size="3.6">10</tspan><tspan dy="1.7"> 4s</tspan><tspan dy="-1.7" font-size="3.6">2</tspan><tspan dy="1.7"> 4p</tspan><tspan dy="-1.7" font-size="3.6">4</tspan></textPath></text></g>
<g transform="translate(1261.7,436.8)"><circle r="31.55" class="r" stroke="#93addd" fill="#fff"/><use href="#ar" stroke="#2e69bd"/><text class="n" fill="#4b389f" x="-21" y="-10.9">35</text><text class="s" fill="#4b389f" y="9">Br</text><text class="m" y="17.1">Bromine</text><text class="w" y="23.6">79.904</text><text class="o" x="21.5" y="-11.4"><tspan class="b">-1</tspan>,1,3,5,7</text><text class="e" transform="rotate(-55)" y="-30" style="fill:#9fb9e6">2,96</text><text class="t" transform="translate(24.5,-20.8) rotate(6)" y="1.7" fill="#fff">B</text><text class="c" fill="#1d2b55"><textPath href="#cp" startOffset="50%"><tspan class="i">[Ar]</tspan>3d<tspan dy="-1.7" font-size="3.6">10</tspan><tspan dy="1.7"> 4s</tspan><tspan dy="-1.7" font-size="3.6">2</tspan><tspan dy="1.7"> 4p</tspan><tspan dy="-1.7" font-size="3.6">5</tspan></textPath></text></g>
<g transform="translate(1334.6,436.9)"><circle r="31.55" class="r" stroke="#c8dff3" fill="#e6eff3"/><use href="#ar" stroke="#92c0e5"/><text class="n g" x="-21" y="-10.9">36</text><text class="s g" y="9">Kr</text><text class="m" y="17.1">Krypton</text><text class="w" y="23.6">83.798(2)</text><text class="o" x="17.5" y="-11.4"><tspan class="b">2</tspan>,4</text><text class="e" transform="rotate(-55)" y="-30">3,00</text><text class="c" fill="#222"><textPath href="#cp" startOffset="50%"><tspan class="i">[Ar]</tspan>3d<tspan dy="-1.7" font-size="3.6">10</tspan><tspan dy="1.7"> 4s</tspan><tspan dy="-1.7" font-size="3.6">2</tspan><tspan dy="1.7"> 4p</tspan><tspan dy="-1.7" font-size="3.6">6</tspan></textPath></text></g>
<g transform="translate(87.5,513.1)"><circle r="31.55" class="r" stroke="#dcb5e0" fill="#fff"/><use href="#ar" stroke="#b870c0"/><text class="n" fill="#b870c0" x="-19.4" y="-11.5">37</text><text class="s" fill="#b870c0" y="8.5">Rb</text><text class="m" y="17.1">Rubidium</text><text class="w" y="23.6">85.468</text><text class="o" x="17.5" y="-11.4"><tspan class="b">1</tspan></text><text class="e" transform="rotate(-55)" y="-30">0,82</text><text class="c" fill="#222"><textPath href="#cp" startOffset="50%"><tspan class="i">[Kr]</tspan>5s<tspan dy="-1.7" font-size="3.6">1</tspan></textPath></text></g>
<g transform="translate(160.7,513.1)"><circle r="31.55" class="r" stroke="#fbe1f0" fill="#fff"/><use href="#ar" stroke="#f8c9e5"/><text class="n" fill="#f8c9e5" x="-19.4" y="-11.5">38</text><text class="s" fill="#f8c9e5" y="8.5">Sr</text><text class="m" y="17.1">Strontium</text><text class="w" y="23.6">87.62</text><text class="o" x="17.5" y="-11.4"><tspan class="b">2</tspan></text><text class="e" transform="rotate(-55)" y="-30">0,95</text><text class="c" fill="#222"><textPath href="#cp" startOffset="50%"><tspan class="i">[Kr]</tspan>5s<tspan dy="-1.7" font-size="3.6">2</tspan></textPath></text></g>
<g transform="translate(234.7,513.8)"><circle r="31.55" class="r" stroke="#9b9b9d" fill="#fff"/><use href="#ar" stroke="#3c3c3e"/><text class="n" fill="#3c3c3e" x="-22" y="-11.6">39</text><text class="s" fill="#3c3c3e" y="9.2">Y</text><text class="m" y="17.1">Yttrium</text><text class="w" y="23.6">88.906</text><text class="o" x="17.5" y="-11.4"><tspan class="b">3</tspan></text><text class="e" transform="rotate(-55)" y="-30" style="fill:#d6d6d8">1,22</text><text class="c" fill="#fff"><textPath href="#cp" startOffset="50%"><tspan class="i">[Kr]</tspan>4d<tspan dy="-1.7" font-size="3.6">1</tspan><tspan dy="1.7"> 5s</tspan><tspan dy="-1.7" font-size="3.6">2</tspan></textPath></text></g>
<g transform="translate(308.1,513.8)"><circle r="31.55" class="r" stroke="#9b9b9d" fill="#fff"/><use href="#ar" stroke="#3c3c3e"/><text class="n" fill="#3c3c3e" x="-22" y="-11.6">40</text><text class="s" fill="#3c3c3e" y="9.2">Zr</text><text class="m" y="17.1">Zirconium</text><text class="w" y="23.6">91.224</text><text class="o" x="17.5" y="-11.4"><tspan class="b">4</tspan></text><text class="e" transform="rotate(-55)" y="-30" style="fill:#d6d6d8">1,33</text><text class="c" fill="#fff"><textPath href="#cp" startOffset="50%"><tspan class="i">[Kr]</tspan>4d<tspan dy="-1.7" font-size="3.6">2</tspan><tspan dy="1.7"> 5s</tspan><tspan dy="-1.7" font-size="3.6">2</tspan></textPath></text></g>
<g transform="translate(381.8,513.8)"><circle r="31.55" class="r" stroke="#9b9b9d" fill="#fff"/><use href="#ar" stroke="#3c3c3e"/><text class="n" fill="#3c3c3e" x="-22" y="-11.6">41</text><text class="s" fill="#3c3c3e" y="9.2">Nb</text><text class="m" y="17.1">Niobium</text><text class="w" y="23.6">92.906</text><text class="o" x="17.5" y="-11.4">3,<tspan class="b">5</tspan></text><text class="e" transform="rotate(-55)" y="-30" style="fill:#d6d6d8">1,6</text><text class="c" fill="#fff"><textPath href="#cp" startOffset="50%"><tspan class="i">[Kr]</tspan>4d<tspan dy="-1.7" font-size="3.6">4</tspan><tspan dy="1.7"> 5s</tspan><tspan dy="-1.7" font-size="3.6">1</tspan></textPath></text></g>
<g transform="translate(455.6,513.8)"><circle r="31.55" class="r" stroke="#9b9b9d" fill="#fff"/><use href="#ar" stroke="#3c3c3e"/><text class="n" fill="#3c3c3e" x="-22" y="-11.6">42</text><text class="s" fill="#3c3c3e" y="9.2">Mo</text><text class="m" y="17.1" textLength="42.83" lengthAdjust="spacingAndGlyphs">Molybdenum</text><text class="w" y="23.6">95.95</text><text class="o" x="18.5" y="-11.4">4,5,<tspan class="b">6</tspan></text><text class="e" transform="rotate(-55)" y="-30" style="fill:#d6d6d8">2,16</text><text class="c" fill="#fff"><textPath href="#cp" startOffset="50%"><tspan class="i">[Kr]</tspan>4d<tspan dy="-1.7" font-size="3.6">5</tspan><tspan dy="1.7"> 5s</tspan><tspan dy="-1.7" font-size="3.6">1</tspan></textPath></text></g>
<g transform="translate(529.4,513.8)"><circle r="31.55" class="r" stroke="#9b9b9d" fill="#fff"/><use href="#ar" stroke="#3c3c3e"/><text class="n" fill="#a8006d" x="-22" y="-11.6">43</text><text class="s" fill="#a8006d" y="9.2">Tc</text><text class="m" y="17.1" textLength="41.03" lengthAdjust="spacingAndGlyphs">Technetium</text><text class="w" y="23.6">(97)</text><text class="o" x="17.5" y="-11.4">4,<tspan class="b">7</tspan></text><text class="e" transform="rotate(-55)" y="-30" style="fill:#d6d6d8">1,9</text><text class="t" transform="translate(24.5,-20.8) rotate(6)" y="1.7" fill="#fff">A</text><text class="c" fill="#fff"><textPath href="#cp" startOffset="50%"><tspan class="i">[Kr]</tspan>4d<tspan dy="-1.7" font-size="3.6">5</tspan><tspan dy="1.7"> 5s</tspan><tspan dy="-1.7" font-size="3.6">2</tspan></textPath></text></g>
<g transform="translate(602.8,513.8)"><circle r="31.55" class="r" stroke="#9b9b9d" fill="#fff"/><use href="#ar" stroke="#3c3c3e"/><text class="n" fill="#3c3c3e" x="-22" y="-11.6">44</text><text class="s" fill="#3c3c3e" y="9.2">Ru</text><text class="m" y="17.1" textLength="40.22" lengthAdjust="spacingAndGlyphs">Ruthenium</text><text class="w" y="23.6">101.07</text><text class="o" x="19.5" y="-11.4">3,<tspan class="b">4</tspan>,6,8</text><text class="e" transform="rotate(-55)" y="-30" style="fill:#d6d6d8">2,2</text><text class="c" fill="#fff"><textPath href="#cp" startOffset="50%"><tspan class="i">[Kr]</tspan>4d<tspan dy="-1.7" font-size="3.6">7</tspan><tspan dy="1.7"> 5s</tspan><tspan dy="-1.7" font-size="3.6">1</tspan></textPath></text></g>
<g transform="translate(676.5,513.8)"><circle r="31.55" class="r" stroke="#9b9b9d" fill="#fff"/><use href="#ar" stroke="#3c3c3e"/><text class="n" fill="#3c3c3e" x="-22" y="-11.6">45</text><text class="s" fill="#3c3c3e" y="9.2">Rh</text><text class="m" y="17.1">Rhodium</text><text class="w" y="23.6">102.91</text><text class="o" x="18.5" y="-11.4">1,<tspan class="b">3</tspan>,4</text><text class="e" transform="rotate(-55)" y="-30" style="fill:#d6d6d8">2,28</text><text class="c" fill="#fff"><textPath href="#cp" startOffset="50%"><tspan class="i">[Kr]</tspan>4d<tspan dy="-1.7" font-size="3.6">8</tspan><tspan dy="1.7"> 5s</tspan><tspan dy="-1.7" font-size="3.6">1</tspan></textPath></text></g>
<g transform="translate(749.8,513.8)"><circle r="31.55" class="r" stroke="#9b9b9d" fill="#fff"/><use href="#ar" stroke="#3c3c3e"/><text class="n" fill="#3c3c3e" x="-22" y="-11.6">46</text><text class="s" fill="#3c3c3e" y="9.2">Pd</text><text class="m" y="17.1">Palladium</text><text class="w" y="23.6">106.42</text><text class="o" x="17.5" y="-11.4"><tspan class="b">2</tspan>,4</text><text class="e" transform="rotate(-55)" y="-30" style="fill:#d6d6d8">2,20</text><text class="c" fill="#fff"><textPath href="#cp" startOffset="50%"><tspan class="i">[Kr]</tspan>4d<tspan dy="-1.7" font-size="3.6">10</tspan></textPath></text></g>
<g transform="translate(823.5,513.8)"><circle r="31.55" class="r" stroke="#9b9b9d" fill="#fff"/><use href="#ar" stroke="#3c3c3e"/><text class="n" fill="#3c3c3e" x="-22" y="-11.6">47</text><text class="s" fill="#3c3c3e" y="9.2">Ag</text><text class="m" y="17.1">Silver</text><text class="w" y="23.6">107.87</text><text class="o" x="17.5" y="-11.4"><tspan class="b">1</tspan></text><text class="e" transform="rotate(-55)" y="-30" style="fill:#d6d6d8">1,93</text><text class="c" fill="#fff"><textPath href="#cp" startOffset="50%"><tspan class="i">[Kr]</tspan>4d<tspan dy="-1.7" font-size="3.6">10</tspan><tspan dy="1.7"> 5s</tspan><tspan dy="-1.7" font-size="3.6">1</tspan></textPath></text></g>
<g transform="translate(896.6,513.8)"><circle r="31.55" class="r" stroke="#9b9b9d" fill="#fff"/><use href="#ar" stroke="#3c3c3e"/><text class="n" fill="#3c3c3e" x="-22" y="-11.6">48</text><text class="s" fill="#3c3c3e" y="9.2">Cd</text><text class="m" y="17.1">Cadmium</text><text class="w" y="23.6">112.41</text><text class="o" x="17.5" y="-11.4"><tspan class="b">2</tspan></text><text class="e" transform="rotate(-55)" y="-30" style="fill:#d6d6d8">1,69</text><text class="c" fill="#fff"><textPath href="#cp" startOffset="50%"><tspan class="i">[Kr]</tspan>4d<tspan dy="-1.7" font-size="3.6">10</tspan><tspan dy="1.7"> 5s</tspan><tspan dy="-1.7" font-size="3.6">2</tspan></textPath></text></g>
<g transform="translate(969.5,513.5)"><circle r="31.55" class="r" stroke="#f9b78f" fill="#fff"/><use href="#ar" stroke="#f47920"/><text class="n" fill="#f47920" x="-21" y="-10.5">49</text><text class="s" fill="#f47920" y="9">In</text><text class="m" y="17.1">Indium</text><text class="w" y="23.6">114.82</text><text class="o" x="17.5" y="-11.4"><tspan class="b">3</tspan></text><text class="e" transform="rotate(-55)" y="-30">1,78</text><text class="c" fill="#222"><textPath href="#cp" startOffset="50%"><tspan class="i">[Kr]</tspan>4d<tspan dy="-1.7" font-size="3.6">10</tspan><tspan dy="1.7"> 5s</tspan><tspan dy="-1.7" font-size="3.6">2</tspan><tspan dy="1.7"> 5p</tspan><tspan dy="-1.7" font-size="3.6">1</tspan></textPath></text></g>
<g transform="translate(1042.3,513.5)"><circle r="31.55" class="r" stroke="#f9b78f" fill="#fff"/><use href="#ar" stroke="#f47920"/><text class="n" fill="#f47920" x="-21" y="-10.5">50</text><text class="s" fill="#f47920" y="9">Sn</text><text class="m" y="17.1">Tin</text><text class="w" y="23.6">118.71</text><text class="o" x="17.5" y="-11.4">2,<tspan class="b">4</tspan></text><text class="e" transform="rotate(-55)" y="-30">1,96</text><text class="c" fill="#222"><textPath href="#cp" startOffset="50%"><tspan class="i">[Kr]</tspan>4d<tspan dy="-1.7" font-size="3.6">10</tspan><tspan dy="1.7"> 5s</tspan><tspan dy="-1.7" font-size="3.6">2</tspan><tspan dy="1.7"> 5p</tspan><tspan dy="-1.7" font-size="3.6">2</tspan></textPath></text></g>
<g transform="translate(1115,513.5)"><circle r="31.55" class="r" stroke="#fee4b1" fill="#fff"/><use href="#ar" stroke="#fdc861"/><text class="n" fill="#fdc861" x="-21" y="-10.5">51</text><text class="s" fill="#fdc861" y="9">Sb</text><text class="m" y="17.1">Antimony</text><text class="w" y="23.6">121.76</text><text class="o" x="18.5" y="-11.4">-3,<tspan class="b">3</tspan>,5</text><text class="e" transform="rotate(-55)" y="-30">2,05</text><text class="c" fill="#222"><textPath href="#cp" startOffset="50%"><tspan class="i">[Kr]</tspan>4d<tspan dy="-1.7" font-size="3.6">10</tspan><tspan dy="1.7"> 5s</tspan><tspan dy="-1.7" font-size="3.6">2</tspan><tspan dy="1.7"> 5p</tspan><tspan dy="-1.7" font-size="3.6">3</tspan></textPath></text></g>
<g transform="translate(1188.1,513.5)"><circle r="31.55" class="r" stroke="#fee4b1" fill="#fff"/><use href="#ar" stroke="#fdc861"/><text class="n" fill="#fdc861" x="-21" y="-10.5">52</text><text class="s" fill="#fdc861" y="9">Te</text><text class="m" y="17.1">Tellurium</text><text class="w" y="23.6">127.60</text><text class="o" x="19.5" y="-11.4">-2,2,<tspan class="b">4</tspan>,6</text><text class="e" transform="rotate(-55)" y="-30">2,1</text><text class="c" fill="#222"><textPath href="#cp" startOffset="50%"><tspan class="i">[Kr]</tspan>4d<tspan dy="-1.7" font-size="3.6">10</tspan><tspan dy="1.7"> 5s</tspan><tspan dy="-1.7" font-size="3.6">2</tspan><tspan dy="1.7"> 5p</tspan><tspan dy="-1.7" font-size="3.6">4</tspan></textPath></text></g>
<g transform="translate(1261.7,513.2)"><circle r="31.55" class="r" stroke="#93addd" fill="#fff"/><use href="#ar" stroke="#2e69bd"/><text class="n" fill="#2e69bd" x="-21" y="-10.5">53</text><text class="s" fill="#2e69bd" y="9">I</text><text class="m" y="17.1">Iodine</text><text class="w" y="23.6">126.90</text><text class="o" x="21.5" y="-11.4"><tspan class="b">-1</tspan>,1,3,5,7</text><text class="e" transform="rotate(-55)" y="-30" style="fill:#9fb9e6">2,66</text><text class="c" fill="#1d2b55"><textPath href="#cp" startOffset="50%"><tspan class="i">[Kr]</tspan>4d<tspan dy="-1.7" font-size="3.6">10</tspan><tspan dy="1.7"> 5s</tspan><tspan dy="-1.7" font-size="3.6">2</tspan><tspan dy="1.7"> 5p</tspan><tspan dy="-1.7" font-size="3.6">5</tspan></textPath></text></g>
<g transform="translate(1334.6,512.9)"><circle r="31.55" class="r" stroke="#c8dff3" fill="#e6eff3"/><use href="#ar" stroke="#92c0e5"/><text class="n g" x="-21" y="-10.5">54</text><text class="s g" y="9">Xe</text><text class="m" y="17.1">Xenon</text><text class="w" y="23.6">131.29</text><text class="o" x="18.5" y="-11.4"><tspan class="b">2</tspan>,4,6</text><text class="e" transform="rotate(-55)" y="-30">2,60</text><text class="c" fill="#222"><textPath href="#cp" startOffset="50%"><tspan class="i">[Kr]</tspan>4d<tspan dy="-1.7" font-size="3.6">10</tspan><tspan dy="1.7"> 5s</tspan><tspan dy="-1.7" font-size="3.6">2</tspan><tspan dy="1.7"> 5p</tspan><tspan dy="-1.7" font-size="3.6">6</tspan></textPath></text></g>
<g transform="translate(87.5,589.3)"><circle r="31.55" class="r" stroke="#dcb5e0" fill="#fff"/><use href="#ar" stroke="#b870c0"/><text class="n" fill="#b870c0" x="-19.4" y="-11.5">55</text><text class="s" fill="#b870c0" y="8.2">Cs</text><text class="m" y="17.1">Caesium</text><text class="w" y="23.6">132.91</text><text class="o" x="17.5" y="-11.4"><tspan class="b">1</tspan></text><text class="e" transform="rotate(-55)" y="-30">0,79</text><text class="c" fill="#222"><textPath href="#cp" startOffset="50%"><tspan class="i">[Xe]</tspan>6s<tspan dy="-1.7" font-size="3.6">1</tspan></textPath></text></g>
<g transform="translate(160.7,589.3)"><circle r="31.55" class="r" stroke="#fbe1f0" fill="#fff"/><use href="#ar" stroke="#f8c9e5"/><text class="n" fill="#f8c9e5" x="-19.4" y="-11.5">56</text><text class="s" fill="#f8c9e5" y="8.2">Ba</text><text class="m" y="17.1">Barium</text><text class="w" y="23.6">137.33</text><text class="o" x="17.5" y="-11.4"><tspan class="b">2</tspan></text><text class="e" transform="rotate(-55)" y="-30">0,89</text><text class="c" fill="#222"><textPath href="#cp" startOffset="50%"><tspan class="i">[Xe]</tspan>6s<tspan dy="-1.7" font-size="3.6">2</tspan></textPath></text></g>
<g transform="translate(308.1,589.7)"><circle r="31.55" class="r" stroke="#9b9b9d" fill="#fff"/><use href="#ar" stroke="#3c3c3e"/><text class="n" fill="#3c3c3e" x="-18.9" y="-11.5">72</text><text class="s" fill="#3c3c3e" y="9.2">Hf</text><text class="m" y="17.1">Hafnium</text><text class="w" y="23.6">178.49(2)</text><text class="o" x="17.5" y="-11.4"><tspan class="b">4</tspan></text><text class="e" transform="rotate(-55)" y="-30" style="fill:#d6d6d8">1,3</text><text class="c" fill="#fff"><textPath href="#cp" startOffset="50%"><tspan class="i">[Xe]</tspan>4f<tspan dy="-1.7" font-size="3.6">14</tspan><tspan dy="1.7"> 5d</tspan><tspan dy="-1.7" font-size="3.6">2</tspan><tspan dy="1.7"> 6s</tspan><tspan dy="-1.7" font-size="3.6">2</tspan></textPath></text></g>
<g transform="translate(381.8,589.7)"><circle r="31.55" class="r" stroke="#9b9b9d" fill="#fff"/><use href="#ar" stroke="#3c3c3e"/><text class="n" fill="#3c3c3e" x="-18.9" y="-11.5">73</text><text class="s" fill="#3c3c3e" y="9.2">Ta</text><text class="m" y="17.1">Tantalum</text><text class="w" y="23.6">180.95</text><text class="o" x="17.5" y="-11.4">3,<tspan class="b">5</tspan></text><text class="e" transform="rotate(-55)" y="-30" style="fill:#d6d6d8">1,5</text><text class="c" fill="#fff"><textPath href="#cp" startOffset="50%"><tspan class="i">[Xe]</tspan>4f<tspan dy="-1.7" font-size="3.6">14</tspan><tspan dy="1.7"> 5d</tspan><tspan dy="-1.7" font-size="3.6">3</tspan><tspan dy="1.7"> 6s</tspan><tspan dy="-1.7" font-size="3.6">2</tspan></textPath></text></g>
<g transform="translate(455.6,589.7)"><circle r="31.55" class="r" stroke="#9b9b9d" fill="#fff"/><use href="#ar" stroke="#3c3c3e"/><text class="n" fill="#3c3c3e" x="-18.9" y="-11.5">74</text><text class="s" fill="#3c3c3e" y="9.2">W</text><text class="m" y="17.1">Tungsten</text><text class="w" y="23.6">183.84</text><text class="o" x="18.5" y="-11.4">4,5,<tspan class="b">6</tspan></text><text class="e" transform="rotate(-55)" y="-30" style="fill:#d6d6d8">2,36</text><text class="c" fill="#fff"><textPath href="#cp" startOffset="50%"><tspan class="i">[Xe]</tspan>4f<tspan dy="-1.7" font-size="3.6">14</tspan><tspan dy="1.7"> 5d</tspan><tspan dy="-1.7" font-size="3.6">4</tspan><tspan dy="1.7"> 6s</tspan><tspan dy="-1.7" font-size="3.6">2</tspan></textPath></text></g>
<g transform="translate(529.4,589.7)"><circle r="31.55" class="r" stroke="#9b9b9d" fill="#fff"/><use href="#ar" stroke="#3c3c3e"/><text class="n" fill="#3c3c3e" x="-18.9" y="-11.5">75</text><text class="s" fill="#3c3c3e" y="9.2">Re</text><text class="m" y="17.1">Rhenium</text><text class="w" y="23.6">186.21</text><text class="o" x="18.5" y="-11.4">4,6,<tspan class="b">7</tspan></text><text class="e" transform="rotate(-55)" y="-30" style="fill:#d6d6d8">1,9</text><text class="c" fill="#fff"><textPath href="#cp" startOffset="50%"><tspan class="i">[Xe]</tspan>4f<tspan dy="-1.7" font-size="3.6">14</tspan><tspan dy="1.7"> 5d</tspan><tspan dy="-1.7" font-size="3.6">5</tspan><tspan dy="1.7"> 6s</tspan><tspan dy="-1.7" font-size="3.6">2</tspan></textPath></text></g>
<g transform="translate(602.8,589.7)"><circle r="31.55" class="r" stroke="#9b9b9d" fill="#fff"/><use href="#ar" stroke="#3c3c3e"/><text class="n" fill="#3c3c3e" x="-18.9" y="-11.5">76</text><text class="s" fill="#3c3c3e" y="9.2">Os</text><text class="m" y="17.1">Osmium</text><text class="w" y="23.6">190.23</text><text class="o" x="18.5" y="-11.4"><tspan class="b">4</tspan>,6,8</text><text class="e" transform="rotate(-55)" y="-30" style="fill:#d6d6d8">2,2</text><text class="c" fill="#fff"><textPath href="#cp" startOffset="50%"><tspan class="i">[Xe]</tspan>4f<tspan dy="-1.7" font-size="3.6">14</tspan><tspan dy="1.7"> 5d</tspan><tspan dy="-1.7" font-size="3.6">6</tspan><tspan dy="1.7"> 6s</tspan><tspan dy="-1.7" font-size="3.6">2</tspan></textPath></text></g>
<g transform="translate(676.5,589.7)"><circle r="31.55" class="r" stroke="#9b9b9d" fill="#fff"/><use href="#ar" stroke="#3c3c3e"/><text class="n" fill="#3c3c3e" x="-18.9" y="-11.5">77</text><text class="s" fill="#3c3c3e" y="9.2">Ir</text><text class="m" y="17.1">Iridium</text><text class="w" y="23.6">192.22</text><text class="o" x="18.5" y="-11.4">1,<tspan class="b">3</tspan>,4</text><text class="e" transform="rotate(-55)" y="-30" style="fill:#d6d6d8">2,20</text><text class="c" fill="#fff"><textPath href="#cp" startOffset="50%"><tspan class="i">[Xe]</tspan>4f<tspan dy="-1.7" font-size="3.6">14</tspan><tspan dy="1.7"> 5d</tspan><tspan dy="-1.7" font-size="3.6">7</tspan><tspan dy="1.7"> 6s</tspan><tspan dy="-1.7" font-size="3.6">2</tspan></textPath></text></g>
<g transform="translate(749.8,589.7)"><circle r="31.55" class="r" stroke="#9b9b9d" fill="#fff"/><use href="#ar" stroke="#3c3c3e"/><text class="n" fill="#3c3c3e" x="-18.9" y="-11.5">78</text><text class="s" fill="#3c3c3e" y="9.2">Pt</text><text class="m" y="17.1">Platinum</text><text class="w" y="23.6">195.08</text><text class="o" x="17.5" y="-11.4"><tspan class="b">2</tspan>,<tspan class="b">4</tspan></text><text class="e" transform="rotate(-55)" y="-30" style="fill:#d6d6d8">2,28</text><text class="c" fill="#fff"><textPath href="#cp" startOffset="50%"><tspan class="i">[Xe]</tspan>4f<tspan dy="-1.7" font-size="3.6">14</tspan><tspan dy="1.7"> 5d</tspan><tspan dy="-1.7" font-size="3.6">9</tspan><tspan dy="1.7"> 6s</tspan><tspan dy="-1.7" font-size="3.6">1</tspan></textPath></text></g>
<g transform="translate(823.5,589.7)"><circle r="31.55" class="r" stroke="#9b9b9d" fill="#fff"/><use href="#ar" stroke="#3c3c3e"/><text class="n" fill="#3c3c3e" x="-18.9" y="-11.5">79</text><text class="s" fill="#3c3c3e" y="9.2">Au</text><text class="m" y="17.1">Gold</text><text class="w" y="23.6">196.97</text><text class="o" x="17.5" y="-11.4">1,<tspan class="b">3</tspan></text><text class="e" transform="rotate(-55)" y="-30" style="fill:#d6d6d8">2,54</text><text class="c" fill="#fff"><textPath href="#cp" startOffset="50%"><tspan class="i">[Xe]</tspan>4f<tspan dy="-1.7" font-size="3.6">14</tspan><tspan dy="1.7"> 5d</tspan><tspan dy="-1.7" font-size="3.6">10</tspan><tspan dy="1.7"> 6s</tspan><tspan dy="-1.7" font-size="3.6">1</tspan></textPath></text></g>
<g transform="translate(896.6,589.7)"><circle r="31.55" class="r" stroke="#9b9b9d" fill="#fff"/><use href="#ar" stroke="#3c3c3e"/><text class="n" fill="#4b389f" x="-18.9" y="-11.5">80</text><text class="s" fill="#4b389f" y="9.2">Hg</text><text class="m" y="17.1">Mercury</text><text class="w" y="23.6">200.59</text><text class="o" x="17.5" y="-11.4">1,<tspan class="b">2</tspan></text><text class="e" transform="rotate(-55)" y="-30" style="fill:#d6d6d8">2,00</text><text class="c" fill="#fff"><textPath href="#cp" startOffset="50%"><tspan class="i">[Xe]</tspan>4f<tspan dy="-1.7" font-size="3.6">14</tspan><tspan dy="1.7"> 5d</tspan><tspan dy="-1.7" font-size="3.6">10</tspan><tspan dy="1.7"> 6s</tspan><tspan dy="-1.7" font-size="3.6">2</tspan></textPath></text></g>
<g transform="translate(969.5,589.7)"><circle r="31.55" class="r" stroke="#f9b78f" fill="#fff"/><use href="#ar" stroke="#f47920"/><text class="n" fill="#f47920" x="-21" y="-9.5">81</text><text class="s" fill="#f47920" y="9">Tl</text><text class="m" y="17.1">Thallium</text><text class="w" y="23.6">204.38</text><text class="o" x="17.5" y="-11.4"><tspan class="b">1</tspan>,3</text><text class="e" transform="rotate(-55)" y="-30">1,62</text><text class="t" transform="translate(24.5,-20.8) rotate(6)" y="1.7" fill="#111">B</text><text class="c" fill="#222"><textPath href="#cp" startOffset="50%"><tspan class="i">[Xe]</tspan>4f<tspan dy="-1.7" font-size="3.6">14</tspan><tspan dy="1.7"> 5d</tspan><tspan dy="-1.7" font-size="3.6">10</tspan><tspan dy="1.7"> 6s</tspan><tspan dy="-1.7" font-size="3.6">2</tspan><tspan dy="1.7"> 6p</tspan><tspan dy="-1.7" font-size="3.6">1</tspan></textPath></text></g>
<g transform="translate(1042.3,589.7)"><circle r="31.55" class="r" stroke="#f9b78f" fill="#fff"/><use href="#ar" stroke="#f47920"/><text class="n" fill="#f47920" x="-21" y="-9.5">82</text><text class="s" fill="#f47920" y="9">Pb</text><text class="m" y="17.1">Lead</text><text class="w" y="23.6">207.2</text><text class="o" x="17.5" y="-11.4"><tspan class="b">2</tspan>,4</text><text class="e" transform="rotate(-55)" y="-30">1,87</text><text class="c" fill="#222"><textPath href="#cp" startOffset="50%"><tspan class="i">[Xe]</tspan>4f<tspan dy="-1.7" font-size="3.6">14</tspan><tspan dy="1.7"> 5d</tspan><tspan dy="-1.7" font-size="3.6">10</tspan><tspan dy="1.7"> 6s</tspan><tspan dy="-1.7" font-size="3.6">2</tspan><tspan dy="1.7"> 6p</tspan><tspan dy="-1.7" font-size="3.6">2</tspan></textPath></text></g>
<g transform="translate(1115,589.7)"><circle r="31.55" class="r" stroke="#f9b78f" fill="#fff"/><use href="#ar" stroke="#f47920"/><text class="n" fill="#f47920" x="-21" y="-9.5">83</text><text class="s" fill="#f47920" y="9">Bi</text><text class="m" y="17.1">Bismuth</text><text class="w" y="23.6">208.98</text><text class="o" x="17.5" y="-11.4"><tspan class="b">3</tspan>,5</text><text class="e" transform="rotate(-55)" y="-30">2,02</text><text class="c" fill="#222"><textPath href="#cp" startOffset="50%"><tspan class="i">[Xe]</tspan>4f<tspan dy="-1.7" font-size="3.6">14</tspan><tspan dy="1.7"> 5d</tspan><tspan dy="-1.7" font-size="3.6">10</tspan><tspan dy="1.7"> 6s</tspan><tspan dy="-1.7" font-size="3.6">2</tspan><tspan dy="1.7"> 6p</tspan><tspan dy="-1.7" font-size="3.6">3</tspan></textPath></text></g>
<g transform="translate(1188.1,588.5)"><circle r="31.55" class="r" stroke="#fee4b1" fill="#fff"/><use href="#ar" stroke="#fdc861"/><text class="n" fill="#fdc861" x="-21" y="-9.5">84</text><text class="s" fill="#fdc861" y="9">Po</text><text class="m" y="17.1">Polonium</text><text class="w" y="23.6">(209)</text><text class="o" x="18.5" y="-11.4">2,<tspan class="b">4</tspan>,6</text><text class="e" transform="rotate(-55)" y="-30">2,0</text><text class="t" transform="translate(24.5,-20.8) rotate(6)" y="1.7" fill="#111">A</text><text class="c" fill="#222"><textPath href="#cp" startOffset="50%"><tspan class="i">[Xe]</tspan>4f<tspan dy="-1.7" font-size="3.6">14</tspan><tspan dy="1.7"> 5d</tspan><tspan dy="-1.7" font-size="3.6">10</tspan><tspan dy="1.7"> 6s</tspan><tspan dy="-1.7" font-size="3.6">2</tspan><tspan dy="1.7"> 6p</tspan><tspan dy="-1.7" font-size="3.6">4</tspan></textPath></text></g>
<g transform="translate(1261.7,588.3)"><circle r="31.55" class="r" stroke="#93addd" fill="#fff"/><use href="#ar" stroke="#2e69bd"/><text class="n" fill="#2e69bd" x="-21" y="-9.5">85</text><text class="s" fill="#2e69bd" y="9">At</text><text class="m" y="17.1">Astatine</text><text class="w" y="23.6">(210)</text><text class="o" x="17.5" y="-11.4">-1,1</text><text class="e" transform="rotate(-55)" y="-30" style="fill:#9fb9e6">2,2</text><text class="t" transform="translate(24.5,-20.8) rotate(6)" y="1.7" fill="#fff">A</text><text class="c" fill="#1d2b55"><textPath href="#cp" startOffset="50%"><tspan class="i">[Xe]</tspan>4f<tspan dy="-1.7" font-size="3.6">14</tspan><tspan dy="1.7"> 5d</tspan><tspan dy="-1.7" font-size="3.6">10</tspan><tspan dy="1.7"> 6s</tspan><tspan dy="-1.7" font-size="3.6">2</tspan><tspan dy="1.7"> 6p</tspan><tspan dy="-1.7" font-size="3.6">5</tspan></textPath></text></g>
<g transform="translate(1334.6,587.3)"><circle r="31.55" class="r" stroke="#c8dff3" fill="#e6eff3"/><use href="#ar" stroke="#92c0e5"/><text class="n g" x="-21" y="-9.5">86</text><text class="s g" y="9">Rn</text><text class="m" y="17.1">Radon</text><text class="w" y="23.6">(222)</text><text class="o" x="17.5" y="-11.4"><tspan class="b">2</tspan></text><text class="e" transform="rotate(-55)" y="-30">2,2</text><text class="t" transform="translate(24.5,-20.8) rotate(6)" y="1.7" fill="#111">A</text><text class="c" fill="#222"><textPath href="#cp" startOffset="50%"><tspan class="i">[Xe]</tspan>4f<tspan dy="-1.7" font-size="3.6">14</tspan><tspan dy="1.7"> 5d</tspan><tspan dy="-1.7" font-size="3.6">10</tspan><tspan dy="1.7"> 6s</tspan><tspan dy="-1.7" font-size="3.6">2</tspan><tspan dy="1.7"> 6p</tspan><tspan dy="-1.7" font-size="3.6">6</tspan></textPath></text></g>
<g transform="translate(87.5,665.5)"><circle r="31.55" class="r" stroke="#dcb5e0" fill="#fff"/><use href="#ar" stroke="#b870c0"/><text class="n" fill="#b870c0" x="-19.4" y="-11.5">87</text><text class="s" fill="#b870c0" y="9.2">Fr</text><text class="m" y="17.1">Francium</text><text class="w" y="23.6">(223)</text><text class="o" x="17.5" y="-11.4"><tspan class="b">1</tspan></text><text class="e" transform="rotate(-55)" y="-30">>0,79</text><text class="t" transform="translate(24.5,-20.8) rotate(6)" y="1.7" fill="#111">A</text><text class="c" fill="#222"><textPath href="#cp" startOffset="50%"><tspan class="i">[Rn]</tspan>7s<tspan dy="-1.7" font-size="3.6">1</tspan></textPath></text></g>
<g transform="translate(160.7,665.5)"><circle r="31.55" class="r" stroke="#fbe1f0" fill="#fff"/><use href="#ar" stroke="#f8c9e5"/><text class="n" fill="#f8c9e5" x="-19.4" y="-11.5">88</text><text class="s" fill="#f8c9e5" y="9.2">Ra</text><text class="m" y="17.1">Radium</text><text class="w" y="23.6">(226)</text><text class="o" x="17.5" y="-11.4"><tspan class="b">2</tspan></text><text class="e" transform="rotate(-55)" y="-30">0,9</text><text class="t" transform="translate(24.5,-20.8) rotate(6)" y="1.7" fill="#111">A</text><text class="c" fill="#222"><textPath href="#cp" startOffset="50%"><tspan class="i">[Rn]</tspan>7s<tspan dy="-1.7" font-size="3.6">2</tspan></textPath></text></g>
<g transform="translate(308.1,666)"><circle r="31.55" class="r" stroke="#9b9b9d" fill="#fff"/><use href="#ar" stroke="#3c3c3e"/><text class="n" fill="#a8006d" x="-20.2" y="-9.8">104</text><text class="s" fill="#a8006d" y="10">Rf</text><text class="m" y="17.1" textLength="43.8" lengthAdjust="spacingAndGlyphs">Rutherfordium</text><text class="w" y="23.6">(267)</text><text class="o" x="17.5" y="-11.4"><tspan class="b">4</tspan></text><text class="t" transform="translate(24.5,-20.8) rotate(6)" y="1.7" fill="#fff">A</text><text class="c" fill="#fff"><textPath href="#cp" startOffset="50%"><tspan class="i">[Rn]</tspan>5f<tspan dy="-1.7" font-size="3.6">14</tspan><tspan dy="1.7"> 6d</tspan><tspan dy="-1.7" font-size="3.6">2</tspan><tspan dy="1.7"> 7s</tspan><tspan dy="-1.7" font-size="3.6">2</tspan></textPath></text></g>
<g transform="translate(381.8,666)"><circle r="31.55" class="r" stroke="#9b9b9d" fill="#fff"/><use href="#ar" stroke="#3c3c3e"/><text class="n" fill="#a8006d" x="-20.2" y="-9.8">105</text><text class="s" fill="#a8006d" y="10">Db</text><text class="m" y="17.1">Dubnium</text><text class="w" y="23.6">(268)</text><text class="o" x="17.5" y="-11.4"><tspan class="b">5</tspan></text><text class="t" transform="translate(24.5,-20.8) rotate(6)" y="1.7" fill="#fff">A</text><text class="c" fill="#fff"><textPath href="#cp" startOffset="50%"><tspan class="i">[Rn]</tspan>5f<tspan dy="-1.7" font-size="3.6">14</tspan><tspan dy="1.7"> 6d</tspan><tspan dy="-1.7" font-size="3.6">3</tspan><tspan dy="1.7"> 7s</tspan><tspan dy="-1.7" font-size="3.6">2</tspan></textPath></text></g>
<g transform="translate(455.6,666)"><circle r="31.55" class="r" stroke="#9b9b9d" fill="#fff"/><use href="#ar" stroke="#3c3c3e"/><text class="n" fill="#a8006d" x="-20.2" y="-9.8">106</text><text class="s" fill="#a8006d" y="10">Sg</text><text class="m" y="17.1" textLength="41.85" lengthAdjust="spacingAndGlyphs">Seaborgium</text><text class="w" y="23.6">(269)</text><text class="o" x="17.5" y="-11.4"><tspan class="b">6</tspan></text><text class="t" transform="translate(24.5,-20.8) rotate(6)" y="1.7" fill="#fff">A</text><text class="c" fill="#fff"><textPath href="#cp" startOffset="50%"><tspan class="i">[Rn]</tspan>5f<tspan dy="-1.7" font-size="3.6">14</tspan><tspan dy="1.7"> 6d</tspan><tspan dy="-1.7" font-size="3.6">4</tspan><tspan dy="1.7"> 7s</tspan><tspan dy="-1.7" font-size="3.6">2</tspan></textPath></text></g>
<g transform="translate(529.4,666)"><circle r="31.55" class="r" stroke="#9b9b9d" fill="#fff"/><use href="#ar" stroke="#3c3c3e"/><text class="n" fill="#a8006d" x="-20.2" y="-9.8">107</text><text class="s" fill="#a8006d" y="10">Bh</text><text class="m" y="17.1">Bohrium</text><text class="w" y="23.6">(270)</text><text class="o" x="17.5" y="-11.4"><tspan class="b">7</tspan></text><text class="t" transform="translate(24.5,-20.8) rotate(6)" y="1.7" fill="#fff">A</text><text class="c" fill="#fff"><textPath href="#cp" startOffset="50%"><tspan class="i">[Rn]</tspan>5f<tspan dy="-1.7" font-size="3.6">14</tspan><tspan dy="1.7"> 6d</tspan><tspan dy="-1.7" font-size="3.6">5</tspan><tspan dy="1.7"> 7s</tspan><tspan dy="-1.7" font-size="3.6">2</tspan></textPath></text></g>
<g transform="translate(602.8,666)"><circle r="31.55" class="r" stroke="#9b9b9d" fill="#fff"/><use href="#ar" stroke="#3c3c3e"/><text class="n" fill="#a8006d" x="-20.2" y="-9.8">108</text><text class="s" fill="#a8006d" y="10">Hs</text><text class="m" y="17.1">Hassium</text><text class="w" y="23.6">(269)</text><text class="o" x="17.5" y="-11.4"><tspan class="b">8</tspan></text><text class="t" transform="translate(24.5,-20.8) rotate(6)" y="1.7" fill="#fff">A</text><text class="c" fill="#fff"><textPath href="#cp" startOffset="50%"><tspan class="i">[Rn]</tspan>5f<tspan dy="-1.7" font-size="3.6">14</tspan><tspan dy="1.7"> 6d</tspan><tspan dy="-1.7" font-size="3.6">6</tspan><tspan dy="1.7"> 7s</tspan><tspan dy="-1.7" font-size="3.6">2</tspan></textPath></text></g>
<g transform="translate(676.5,666)"><circle r="31.55" class="r" stroke="#9b9b9d" fill="#fff"/><use href="#ar" stroke="#3c3c3e"/><text class="n" fill="#a8006d" x="-20.2" y="-9.8">109</text><text class="s" fill="#a8006d" y="10">Mt</text><text class="m" y="17.1" textLength="40.54" lengthAdjust="spacingAndGlyphs">Meitnerium</text><text class="w" y="23.6">(277)</text><text class="t" transform="translate(24.5,-20.8) rotate(6)" y="1.7" fill="#fff">A</text><text class="c" fill="#fff"><textPath href="#cp" startOffset="50%">*<tspan class="i">[Rn]</tspan>5f<tspan dy="-1.7" font-size="3.6">14</tspan><tspan dy="1.7"> 6d</tspan><tspan dy="-1.7" font-size="3.6">7</tspan><tspan dy="1.7"> 7s</tspan><tspan dy="-1.7" font-size="3.6">2</tspan></textPath></text></g>
<g transform="translate(749.8,666)"><circle r="31.55" class="r" stroke="#9b9b9d" fill="#fff"/><use href="#ar" stroke="#3c3c3e"/><text class="n" fill="#a8006d" x="-20.2" y="-9.8">110</text><text class="s" fill="#a8006d" y="10">Ds</text><text class="m" y="17.1" textLength="43.8" lengthAdjust="spacingAndGlyphs">Darmstadtium</text><text class="w" y="23.6">(281)</text><text class="t" transform="translate(24.5,-20.8) rotate(6)" y="1.7" fill="#fff">A</text><text class="c" fill="#fff"><textPath href="#cp" startOffset="50%">*<tspan class="i">[Rn]</tspan>5f<tspan dy="-1.7" font-size="3.6">14</tspan><tspan dy="1.7"> 6d</tspan><tspan dy="-1.7" font-size="3.6">8</tspan><tspan dy="1.7"> 7s</tspan><tspan dy="-1.7" font-size="3.6">2</tspan></textPath></text></g>
<g transform="translate(823.5,666)"><circle r="31.55" class="r" stroke="#9b9b9d" fill="#fff"/><use href="#ar" stroke="#3c3c3e"/><text class="n" fill="#a8006d" x="-20.2" y="-9.8">111</text><text class="s" fill="#a8006d" y="10">Rg</text><text class="m" y="17.1" textLength="43.49" lengthAdjust="spacingAndGlyphs">Roentgenium</text><text class="w" y="23.6">(282)</text><text class="t" transform="translate(24.5,-20.8) rotate(6)" y="1.7" fill="#fff">A</text><text class="c" fill="#fff"><textPath href="#cp" startOffset="50%">*<tspan class="i">[Rn]</tspan>5f<tspan dy="-1.7" font-size="3.6">14</tspan><tspan dy="1.7"> 6d</tspan><tspan dy="-1.7" font-size="3.6">9</tspan><tspan dy="1.7"> 7s</tspan><tspan dy="-1.7" font-size="3.6">2</tspan></textPath></text></g>
<g transform="translate(896.6,666)"><circle r="31.55" class="r" stroke="#9b9b9d" fill="#fff"/><use href="#ar" stroke="#3c3c3e"/><text class="n" fill="#a8006d" x="-20.2" y="-9.8">112</text><text class="s" fill="#a8006d" y="10">Cn</text><text class="m" y="17.1" textLength="42.5" lengthAdjust="spacingAndGlyphs">Copernicium</text><text class="w" y="23.6">(285)</text><text class="o" x="17.5" y="-11.4"><tspan class="b">2</tspan></text><text class="t" transform="translate(24.5,-20.8) rotate(6)" y="1.7" fill="#fff">A</text><text class="c" fill="#fff"><textPath href="#cp" startOffset="50%">*<tspan class="i">[Rn]</tspan>5f<tspan dy="-1.7" font-size="3.6">14</tspan><tspan dy="1.7"> 6d</tspan><tspan dy="-1.7" font-size="3.6">10</tspan><tspan dy="1.7"> 7s</tspan><tspan dy="-1.7" font-size="3.6">2</tspan></textPath></text></g>
<g transform="translate(969.5,665.5)"><circle r="31.55" class="r" stroke="#f9b78f" fill="#fff"/><use href="#ar" stroke="#f47920"/><text class="n" fill="#a8006d" x="-21.6" y="-9.3">113</text><text class="s" fill="#a8006d" y="9">Nh</text><text class="m" y="17.1">Nihonium</text><text class="w" y="23.6">(286)</text><text class="t" transform="translate(24.5,-20.8) rotate(6)" y="1.7" fill="#111">A</text><text class="c" fill="#222"><textPath href="#cp" startOffset="50%">*<tspan class="i">[Rn]</tspan>5f<tspan dy="-1.7" font-size="3.6">14</tspan><tspan dy="1.7"> 6d</tspan><tspan dy="-1.7" font-size="3.6">10</tspan><tspan dy="1.7"> 7s</tspan><tspan dy="-1.7" font-size="3.6">2</tspan><tspan dy="1.7"> 7p</tspan><tspan dy="-1.7" font-size="3.6">1</tspan></textPath></text></g>
<g transform="translate(1042.3,665.5)"><circle r="31.55" class="r" stroke="#f9b78f" fill="#fff"/><use href="#ar" stroke="#f47920"/><text class="n" fill="#a8006d" x="-21.6" y="-9.3">114</text><text class="s" fill="#a8006d" y="9">Fl</text><text class="m" y="17.1">Flerovium</text><text class="w" y="23.6">(290)</text><text class="t" transform="translate(24.5,-20.8) rotate(6)" y="1.7" fill="#111">A</text><text class="c" fill="#222"><textPath href="#cp" startOffset="50%">*<tspan class="i">[Rn]</tspan>5f<tspan dy="-1.7" font-size="3.6">14</tspan><tspan dy="1.7"> 6d</tspan><tspan dy="-1.7" font-size="3.6">10</tspan><tspan dy="1.7"> 7s</tspan><tspan dy="-1.7" font-size="3.6">2</tspan><tspan dy="1.7"> 7p</tspan><tspan dy="-1.7" font-size="3.6">2</tspan></textPath></text></g>
<g transform="translate(1115,665.5)"><circle r="31.55" class="r" stroke="#f9b78f" fill="#fff"/><use href="#ar" stroke="#f47920"/><text class="n" fill="#a8006d" x="-21.6" y="-9.3">115</text><text class="s" fill="#a8006d" y="9">Mc</text><text class="m" y="17.1" textLength="40.87" lengthAdjust="spacingAndGlyphs">Moscovium</text><text class="w" y="23.6">(290)</text><text class="t" transform="translate(24.5,-20.8) rotate(6)" y="1.7" fill="#111">A</text><text class="c" fill="#222"><textPath href="#cp" startOffset="50%">*<tspan class="i">[Rn]</tspan>5f<tspan dy="-1.7" font-size="3.6">14</tspan><tspan dy="1.7"> 6d</tspan><tspan dy="-1.7" font-size="3.6">10</tspan><tspan dy="1.7"> 7s</tspan><tspan dy="-1.7" font-size="3.6">2</tspan><tspan dy="1.7"> 7p</tspan><tspan dy="-1.7" font-size="3.6">3</tspan></textPath></text></g>
<g transform="translate(1188.1,665.5)"><circle r="31.55" class="r" stroke="#f9b78f" fill="#fff"/><use href="#ar" stroke="#f47920"/><text class="n" fill="#a8006d" x="-21.6" y="-9.3">116</text><text class="s" fill="#a8006d" y="9">Lv</text><text class="m" y="17.1" textLength="42.17" lengthAdjust="spacingAndGlyphs">Livermorium</text><text class="w" y="23.6">(293)</text><text class="t" transform="translate(24.5,-20.8) rotate(6)" y="1.7" fill="#111">A</text><text class="c" fill="#222"><textPath href="#cp" startOffset="50%">*<tspan class="i">[Rn]</tspan>5f<tspan dy="-1.7" font-size="3.6">14</tspan><tspan dy="1.7"> 6d</tspan><tspan dy="-1.7" font-size="3.6">10</tspan><tspan dy="1.7"> 7s</tspan><tspan dy="-1.7" font-size="3.6">2</tspan><tspan dy="1.7"> 7p</tspan><tspan dy="-1.7" font-size="3.6">4</tspan></textPath></text></g>
<g transform="translate(1261.7,665.5)"><circle r="31.55" class="r" stroke="#93addd" fill="#fff"/><use href="#ar" stroke="#2e69bd"/><text class="n" fill="#a8006d" x="-21.6" y="-9.3">117</text><text class="s" fill="#a8006d" y="9">Ts</text><text class="m" y="17.1" textLength="40.87" lengthAdjust="spacingAndGlyphs">Tennessine</text><text class="w" y="23.6">(294)</text><text class="t" transform="translate(24.5,-20.8) rotate(6)" y="1.7" fill="#fff">A</text><text class="c" fill="#1d2b55"><textPath href="#cp" startOffset="50%">*<tspan class="i">[Rn]</tspan>5f<tspan dy="-1.7" font-size="3.6">14</tspan><tspan dy="1.7"> 6d</tspan><tspan dy="-1.7" font-size="3.6">10</tspan><tspan dy="1.7"> 7s</tspan><tspan dy="-1.7" font-size="3.6">2</tspan><tspan dy="1.7"> 7p</tspan><tspan dy="-1.7" font-size="3.6">5</tspan></textPath></text></g>
<g transform="translate(1334.6,663.9)"><circle r="31.55" class="r" stroke="#c8dff3" fill="#fff"/><use href="#ar" stroke="#92c0e5"/><text class="n" fill="#a8006d" x="-21.6" y="-9.3">118</text><text class="s" fill="#a8006d" y="9">Og</text><text class="m" y="17.1" textLength="41.04" lengthAdjust="spacingAndGlyphs">Oganesson</text><text class="w" y="23.6">(294)</text><text class="t" transform="translate(24.5,-20.8) rotate(6)" y="1.7" fill="#111">A</text><text class="c" fill="#222"><textPath href="#cp" startOffset="50%">*<tspan class="i">[Rn]</tspan>5f<tspan dy="-1.7" font-size="3.6">14</tspan><tspan dy="1.7"> 6d</tspan><tspan dy="-1.7" font-size="3.6">10</tspan><tspan dy="1.7"> 7s</tspan><tspan dy="-1.7" font-size="3.6">2</tspan><tspan dy="1.7"> 7p</tspan><tspan dy="-1.7" font-size="3.6">6</tspan></textPath></text></g>
<g transform="translate(306.9,796.5)"><circle r="31.55" class="r" stroke="#ededed" fill="#fff"/><use href="#ar" stroke="#cdcdcc"/><text class="n" fill="#cdcdcc" x="-21.4" y="-9.6">57</text><text class="s" fill="#cdcdcc" y="10.5">La</text><text class="m" y="19.3" textLength="40.71" lengthAdjust="spacingAndGlyphs">Lanthanum</text><text class="w" y="25.7">138.91</text><text class="o" x="17.5" y="-8.9"><tspan class="b">3</tspan></text><text class="e" transform="rotate(-55)" y="-30" style="fill:#8c8c8c">1,1</text><text class="c" fill="#222"><textPath href="#cp" startOffset="50%"><tspan class="i">[Xe]</tspan>5d<tspan dy="-1.7" font-size="3.6">1</tspan><tspan dy="1.7"> 6s</tspan><tspan dy="-1.7" font-size="3.6">2</tspan></textPath></text></g>
<g transform="translate(380.27,796.5)"><circle r="31.55" class="r" stroke="#ededed" fill="#fff"/><use href="#ar" stroke="#cdcdcc"/><text class="n" fill="#cdcdcc" x="-21.4" y="-9.6">58</text><text class="s" fill="#cdcdcc" y="10.5">Ce</text><text class="m" y="19.3">Cerium</text><text class="w" y="25.7">140.12</text><text class="o" x="17.5" y="-8.9"><tspan class="b">3</tspan>,4</text><text class="e" transform="rotate(-55)" y="-30" style="fill:#8c8c8c">1,12</text><text class="c" fill="#222"><textPath href="#cp" startOffset="50%"><tspan class="i">[Xe]</tspan>4f<tspan dy="-1.7" font-size="3.6">1</tspan><tspan dy="1.7"> 5d</tspan><tspan dy="-1.7" font-size="3.6">1</tspan><tspan dy="1.7"> 6s</tspan><tspan dy="-1.7" font-size="3.6">2</tspan></textPath></text></g>
<g transform="translate(453.64,796.5)"><circle r="31.55" class="r" stroke="#ededed" fill="#fff"/><use href="#ar" stroke="#cdcdcc"/><text class="n" fill="#cdcdcc" x="-21.4" y="-9.6">59</text><text class="s" fill="#cdcdcc" y="10.5">Pr</text><text class="m" y="19.3" textLength="43.8" lengthAdjust="spacingAndGlyphs">Praseodymium</text><text class="w" y="25.7">140.91</text><text class="o" x="17.5" y="-8.9"><tspan class="b">3</tspan>,4</text><text class="e" transform="rotate(-55)" y="-30" style="fill:#8c8c8c">1,13</text><text class="c" fill="#222"><textPath href="#cp" startOffset="50%"><tspan class="i">[Xe]</tspan>4f<tspan dy="-1.7" font-size="3.6">3</tspan><tspan dy="1.7"> 6s</tspan><tspan dy="-1.7" font-size="3.6">2</tspan></textPath></text></g>
<g transform="translate(527.01,796.5)"><circle r="31.55" class="r" stroke="#ededed" fill="#fff"/><use href="#ar" stroke="#cdcdcc"/><text class="n" fill="#cdcdcc" x="-21.4" y="-9.6">60</text><text class="s" fill="#cdcdcc" y="10.5">Nd</text><text class="m" y="19.3" textLength="41.68" lengthAdjust="spacingAndGlyphs">Neodymium</text><text class="w" y="25.7">144.24</text><text class="o" x="17.5" y="-8.9"><tspan class="b">3</tspan></text><text class="e" transform="rotate(-55)" y="-30" style="fill:#8c8c8c">1,14</text><text class="c" fill="#222"><textPath href="#cp" startOffset="50%"><tspan class="i">[Xe]</tspan>4f<tspan dy="-1.7" font-size="3.6">4</tspan><tspan dy="1.7"> 6s</tspan><tspan dy="-1.7" font-size="3.6">2</tspan></textPath></text></g>
<g transform="translate(600.38,796.5)"><circle r="31.55" class="r" stroke="#ededed" fill="#fff"/><use href="#ar" stroke="#cdcdcc"/><text class="n" fill="#cdcdcc" x="-21.4" y="-9.6">61</text><text class="s" fill="#cdcdcc" y="10.5">Pm</text><text class="m" y="19.3" textLength="41.85" lengthAdjust="spacingAndGlyphs">Promethium</text><text class="w" y="25.7">(145)</text><text class="o" x="17.5" y="-8.9"><tspan class="b">3</tspan></text><text class="e" transform="rotate(-55)" y="-30" style="fill:#8c8c8c">1,1-1,2</text><text class="t" transform="translate(24.5,-20.8) rotate(6)" y="1.7" fill="#111">A</text><text class="c" fill="#222"><textPath href="#cp" startOffset="50%"><tspan class="i">[Xe]</tspan>4f<tspan dy="-1.7" font-size="3.6">5</tspan><tspan dy="1.7"> 6s</tspan><tspan dy="-1.7" font-size="3.6">2</tspan></textPath></text></g>
<g transform="translate(673.75,796.5)"><circle r="31.55" class="r" stroke="#ededed" fill="#fff"/><use href="#ar" stroke="#cdcdcc"/><text class="n" fill="#cdcdcc" x="-21.4" y="-9.6">62</text><text class="s" fill="#cdcdcc" y="10.5">Sm</text><text class="m" y="19.3">Samarium</text><text class="w" y="25.7">150.36</text><text class="o" x="17.5" y="-8.9">2,<tspan class="b">3</tspan></text><text class="e" transform="rotate(-55)" y="-30" style="fill:#8c8c8c">1,17</text><text class="c" fill="#222"><textPath href="#cp" startOffset="50%"><tspan class="i">[Xe]</tspan>4f<tspan dy="-1.7" font-size="3.6">6</tspan><tspan dy="1.7"> 6s</tspan><tspan dy="-1.7" font-size="3.6">2</tspan></textPath></text></g>
<g transform="translate(747.12,796.5)"><circle r="31.55" class="r" stroke="#ededed" fill="#fff"/><use href="#ar" stroke="#cdcdcc"/><text class="n" fill="#cdcdcc" x="-21.4" y="-9.6">63</text><text class="s" fill="#cdcdcc" y="10.5">Eu</text><text class="m" y="19.3">Europium</text><text class="w" y="25.7">151.96</text><text class="o" x="17.5" y="-8.9">2,<tspan class="b">3</tspan></text><text class="e" transform="rotate(-55)" y="-30" style="fill:#8c8c8c">1,1-1,2</text><text class="c" fill="#222"><textPath href="#cp" startOffset="50%"><tspan class="i">[Xe]</tspan>4f<tspan dy="-1.7" font-size="3.6">7</tspan><tspan dy="1.7"> 6s</tspan><tspan dy="-1.7" font-size="3.6">2</tspan></textPath></text></g>
<g transform="translate(820.49,796.5)"><circle r="31.55" class="r" stroke="#ededed" fill="#fff"/><use href="#ar" stroke="#cdcdcc"/><text class="n" fill="#cdcdcc" x="-21.4" y="-9.6">64</text><text class="s" fill="#cdcdcc" y="10.5">Gd</text><text class="m" y="19.3" textLength="40.87" lengthAdjust="spacingAndGlyphs">Gadolinium</text><text class="w" y="25.7">157.25</text><text class="o" x="17.5" y="-8.9"><tspan class="b">3</tspan></text><text class="e" transform="rotate(-55)" y="-30" style="fill:#8c8c8c">1,2</text><text class="c" fill="#222"><textPath href="#cp" startOffset="50%"><tspan class="i">[Xe]</tspan>4f<tspan dy="-1.7" font-size="3.6">7</tspan><tspan dy="1.7"> 5d</tspan><tspan dy="-1.7" font-size="3.6">1</tspan><tspan dy="1.7"> 6s</tspan><tspan dy="-1.7" font-size="3.6">2</tspan></textPath></text></g>
<g transform="translate(893.86,796.5)"><circle r="31.55" class="r" stroke="#ededed" fill="#fff"/><use href="#ar" stroke="#cdcdcc"/><text class="n" fill="#cdcdcc" x="-21.4" y="-9.6">65</text><text class="s" fill="#cdcdcc" y="10.5">Tb</text><text class="m" y="19.3">Terbium</text><text class="w" y="25.7">158.93</text><text class="o" x="17.5" y="-8.9"><tspan class="b">3</tspan>,4</text><text class="e" transform="rotate(-55)" y="-30" style="fill:#8c8c8c">1,1</text><text class="c" fill="#222"><textPath href="#cp" startOffset="50%"><tspan class="i">[Xe]</tspan>4f<tspan dy="-1.7" font-size="3.6">9</tspan><tspan dy="1.7"> 6s</tspan><tspan dy="-1.7" font-size="3.6">2</tspan></textPath></text></g>
<g transform="translate(967.23,796.5)"><circle r="31.55" class="r" stroke="#ededed" fill="#fff"/><use href="#ar" stroke="#cdcdcc"/><text class="n" fill="#cdcdcc" x="-21.4" y="-9.6">66</text><text class="s" fill="#cdcdcc" y="10.5">Dy</text><text class="m" y="19.3" textLength="41.52" lengthAdjust="spacingAndGlyphs">Dysprosium</text><text class="w" y="25.7">162.50</text><text class="o" x="17.5" y="-8.9"><tspan class="b">3</tspan></text><text class="e" transform="rotate(-55)" y="-30" style="fill:#8c8c8c">1,22</text><text class="c" fill="#222"><textPath href="#cp" startOffset="50%"><tspan class="i">[Xe]</tspan>4f<tspan dy="-1.7" font-size="3.6">10</tspan><tspan dy="1.7"> 6s</tspan><tspan dy="-1.7" font-size="3.6">2</tspan></textPath></text></g>
<g transform="translate(1040.6,796.5)"><circle r="31.55" class="r" stroke="#ededed" fill="#fff"/><use href="#ar" stroke="#cdcdcc"/><text class="n" fill="#cdcdcc" x="-21.4" y="-9.6">67</text><text class="s" fill="#cdcdcc" y="10.5">Ho</text><text class="m" y="19.3">Holmium</text><text class="w" y="25.7">164.93</text><text class="o" x="17.5" y="-8.9"><tspan class="b">3</tspan></text><text class="e" transform="rotate(-55)" y="-30" style="fill:#8c8c8c">1,23</text><text class="c" fill="#222"><textPath href="#cp" startOffset="50%"><tspan class="i">[Xe]</tspan>4f<tspan dy="-1.7" font-size="3.6">11</tspan><tspan dy="1.7"> 6s</tspan><tspan dy="-1.7" font-size="3.6">2</tspan></textPath></text></g>
<g transform="translate(1113.97,796.5)"><circle r="31.55" class="r" stroke="#ededed" fill="#fff"/><use href="#ar" stroke="#cdcdcc"/><text class="n" fill="#cdcdcc" x="-21.4" y="-9.6">68</text><text class="s" fill="#cdcdcc" y="10.5">Er</text><text class="m" y="19.3">Erbium</text><text class="w" y="25.7">167.26</text><text class="o" x="17.5" y="-8.9"><tspan class="b">3</tspan></text><text class="e" transform="rotate(-55)" y="-30" style="fill:#8c8c8c">1,24</text><text class="c" fill="#222"><textPath href="#cp" startOffset="50%"><tspan class="i">[Xe]</tspan>4f<tspan dy="-1.7" font-size="3.6">12</tspan><tspan dy="1.7"> 6s</tspan><tspan dy="-1.7" font-size="3.6">2</tspan></textPath></text></g>
<g transform="translate(1187.34,796.5)"><circle r="31.55" class="r" stroke="#ededed" fill="#fff"/><use href="#ar" stroke="#cdcdcc"/><text class="n" fill="#cdcdcc" x="-21.4" y="-9.6">69</text><text class="s" fill="#cdcdcc" y="10.5">Tm</text><text class="m" y="19.3">Thulium</text><text class="w" y="25.7">168.93</text><text class="o" x="17.5" y="-8.9">2,<tspan class="b">3</tspan></text><text class="e" transform="rotate(-55)" y="-30" style="fill:#8c8c8c">1,25</text><text class="c" fill="#222"><textPath href="#cp" startOffset="50%"><tspan class="i">[Xe]</tspan>4f<tspan dy="-1.7" font-size="3.6">13</tspan><tspan dy="1.7"> 6s</tspan><tspan dy="-1.7" font-size="3.6">2</tspan></textPath></text></g>
<g transform="translate(1260.71,796.5)"><circle r="31.55" class="r" stroke="#ededed" fill="#fff"/><use href="#ar" stroke="#cdcdcc"/><text class="n" fill="#cdcdcc" x="-21.4" y="-9.6">70</text><text class="s" fill="#cdcdcc" y="10.5">Yb</text><text class="m" y="19.3">Ytterbium</text><text class="w" y="25.7">173.05</text><text class="o" x="17.5" y="-8.9">2,<tspan class="b">3</tspan></text><text class="e" transform="rotate(-55)" y="-30" style="fill:#8c8c8c">1,1-1,2</text><text class="c" fill="#222"><textPath href="#cp" startOffset="50%"><tspan class="i">[Xe]</tspan>4f<tspan dy="-1.7" font-size="3.6">14</tspan><tspan dy="1.7"> 6s</tspan><tspan dy="-1.7" font-size="3.6">2</tspan></textPath></text></g>
<g transform="translate(1334.08,796.5)"><circle r="31.55" class="r" stroke="#ededed" fill="#fff"/><use href="#ar" stroke="#cdcdcc"/><text class="n" fill="#cdcdcc" x="-21.4" y="-9.6">71</text><text class="s" fill="#cdcdcc" y="10.5">Lu</text><text class="m" y="19.3">Lutetium</text><text class="w" y="25.7">174.97</text><text class="o" x="17.5" y="-8.9"><tspan class="b">3</tspan></text><text class="e" transform="rotate(-55)" y="-30" style="fill:#8c8c8c">1,27</text><text class="c" fill="#222"><textPath href="#cp" startOffset="50%"><tspan class="i">[Xe]</tspan>4f<tspan dy="-1.7" font-size="3.6">14</tspan><tspan dy="1.7"> 5d</tspan><tspan dy="-1.7" font-size="3.6">1</tspan><tspan dy="1.7"> 6s</tspan><tspan dy="-1.7" font-size="3.6">2</tspan></textPath></text></g>
<g transform="translate(306.9,874.9)"><circle r="31.55" class="r" stroke="#c6c6c6" fill="#fff"/><use href="#ar" stroke="#8e8e90"/><text class="n" fill="#8e8e90" x="-20.2" y="-9.6">89</text><text class="s" fill="#8e8e90" y="9.6">Ac</text><text class="m" y="18.2">Actinium</text><text class="w" y="24.5">(227)</text><text class="o" x="17.5" y="-10"><tspan class="b">3</tspan></text><text class="e" transform="rotate(-55)" y="-30" style="fill:#6d6d6f">1,1</text><text class="t" transform="translate(24.5,-20.8) rotate(6)" y="1.7" fill="#111">A</text><text class="c" fill="#222"><textPath href="#cp" startOffset="50%"><tspan class="i">[Rn]</tspan>6d<tspan dy="-1.7" font-size="3.6">1</tspan><tspan dy="1.7"> 7s</tspan><tspan dy="-1.7" font-size="3.6">2</tspan></textPath></text></g>
<g transform="translate(380.27,874.9)"><circle r="31.55" class="r" stroke="#c6c6c6" fill="#fff"/><use href="#ar" stroke="#8e8e90"/><text class="n" fill="#8e8e90" x="-20.2" y="-9.6">90</text><text class="s" fill="#8e8e90" y="9.6">Th</text><text class="m" y="18.2">Thorium</text><text class="w" y="24.5">232.04</text><text class="o" x="17.5" y="-10"><tspan class="b">4</tspan></text><text class="e" transform="rotate(-55)" y="-30" style="fill:#6d6d6f">1,3</text><text class="t" transform="translate(24.5,-20.8) rotate(6)" y="1.7" fill="#111">A</text><text class="c" fill="#222"><textPath href="#cp" startOffset="50%"><tspan class="i">[Rn]</tspan>6d<tspan dy="-1.7" font-size="3.6">2</tspan><tspan dy="1.7"> 7s</tspan><tspan dy="-1.7" font-size="3.6">2</tspan></textPath></text></g>
<g transform="translate(453.64,874.9)"><circle r="31.55" class="r" stroke="#c6c6c6" fill="#fff"/><use href="#ar" stroke="#8e8e90"/><text class="n" fill="#8e8e90" x="-20.2" y="-9.6">91</text><text class="s" fill="#8e8e90" y="9.6">Pa</text><text class="m" y="18.2" textLength="42.34" lengthAdjust="spacingAndGlyphs">Protactinium</text><text class="w" y="24.5">231.04</text><text class="o" x="17.5" y="-10">4,<tspan class="b">5</tspan></text><text class="e" transform="rotate(-55)" y="-30" style="fill:#6d6d6f">1,5</text><text class="t" transform="translate(24.5,-20.8) rotate(6)" y="1.7" fill="#111">A</text><text class="c" fill="#222"><textPath href="#cp" startOffset="50%"><tspan class="i">[Rn]</tspan>5f<tspan dy="-1.7" font-size="3.6">2</tspan><tspan dy="1.7"> 6d</tspan><tspan dy="-1.7" font-size="3.6">1</tspan><tspan dy="1.7"> 7s</tspan><tspan dy="-1.7" font-size="3.6">2</tspan></textPath></text></g>
<g transform="translate(527.01,874.9)"><circle r="31.55" class="r" stroke="#c6c6c6" fill="#fff"/><use href="#ar" stroke="#8e8e90"/><text class="n" fill="#8e8e90" x="-20.2" y="-9.6">92</text><text class="s" fill="#8e8e90" y="9.6">U</text><text class="m" y="18.2">Uranium</text><text class="w" y="24.5">238.03</text><text class="o" x="19.5" y="-10">3,4,5,<tspan class="b">6</tspan></text><text class="e" transform="rotate(-55)" y="-30" style="fill:#6d6d6f">1,38</text><text class="t" transform="translate(24.5,-20.8) rotate(6)" y="1.7" fill="#111">A</text><text class="c" fill="#222"><textPath href="#cp" startOffset="50%"><tspan class="i">[Rn]</tspan>5f<tspan dy="-1.7" font-size="3.6">3</tspan><tspan dy="1.7"> 6d</tspan><tspan dy="-1.7" font-size="3.6">1</tspan><tspan dy="1.7"> 7s</tspan><tspan dy="-1.7" font-size="3.6">2</tspan></textPath></text></g>
<g transform="translate(600.38,874.9)"><circle r="31.55" class="r" stroke="#c6c6c6" fill="#fff"/><use href="#ar" stroke="#8e8e90"/><text class="n" fill="#8e8e90" x="-20.2" y="-9.6">93</text><text class="s" fill="#8e8e90" y="9.6">Np</text><text class="m" y="18.2" textLength="40.22" lengthAdjust="spacingAndGlyphs">Neptunium</text><text class="w" y="24.5">(237)</text><text class="o" x="19.5" y="-10">3,4,<tspan class="b">5</tspan>,6</text><text class="e" transform="rotate(-55)" y="-30" style="fill:#6d6d6f">1,36</text><text class="t" transform="translate(24.5,-20.8) rotate(6)" y="1.7" fill="#111">A</text><text class="c" fill="#222"><textPath href="#cp" startOffset="50%"><tspan class="i">[Rn]</tspan>5f<tspan dy="-1.7" font-size="3.6">4</tspan><tspan dy="1.7"> 6d</tspan><tspan dy="-1.7" font-size="3.6">1</tspan><tspan dy="1.7"> 7s</tspan><tspan dy="-1.7" font-size="3.6">2</tspan></textPath></text></g>
<g transform="translate(673.75,874.9)"><circle r="31.55" class="r" stroke="#c6c6c6" fill="#fff"/><use href="#ar" stroke="#8e8e90"/><text class="n" fill="#8e8e90" x="-20.2" y="-9.6">94</text><text class="s" fill="#8e8e90" y="9.6">Pu</text><text class="m" y="18.2">Plutonium</text><text class="w" y="24.5">(244)</text><text class="o" x="19.5" y="-10">3,<tspan class="b">4</tspan>,5,6</text><text class="e" transform="rotate(-55)" y="-30" style="fill:#6d6d6f">1,28</text><text class="t" transform="translate(24.5,-20.8) rotate(6)" y="1.7" fill="#111">A</text><text class="c" fill="#222"><textPath href="#cp" startOffset="50%"><tspan class="i">[Rn]</tspan>5f<tspan dy="-1.7" font-size="3.6">6</tspan><tspan dy="1.7"> 7s</tspan><tspan dy="-1.7" font-size="3.6">2</tspan></textPath></text></g>
<g transform="translate(747.12,874.9)"><circle r="31.55" class="r" stroke="#c6c6c6" fill="#fff"/><use href="#ar" stroke="#8e8e90"/><text class="n" fill="#8e8e90" x="-20.2" y="-9.6">95</text><text class="s" fill="#8e8e90" y="9.6">Am</text><text class="m" y="18.2">Americium</text><text class="w" y="24.5">(243)</text><text class="o" x="19.5" y="-10"><tspan class="b">3</tspan>,4,5,6</text><text class="e" transform="rotate(-55)" y="-30" style="fill:#6d6d6f">1,13</text><text class="t" transform="translate(24.5,-20.8) rotate(6)" y="1.7" fill="#111">A</text><text class="c" fill="#222"><textPath href="#cp" startOffset="50%"><tspan class="i">[Rn]</tspan>5f<tspan dy="-1.7" font-size="3.6">7</tspan><tspan dy="1.7"> 7s</tspan><tspan dy="-1.7" font-size="3.6">2</tspan></textPath></text></g>
<g transform="translate(820.49,874.9)"><circle r="31.55" class="r" stroke="#c6c6c6" fill="#fff"/><use href="#ar" stroke="#8e8e90"/><text class="n" fill="#8e8e90" x="-20.2" y="-9.6">96</text><text class="s" fill="#8e8e90" y="9.6">Cm</text><text class="m" y="18.2">Curium</text><text class="w" y="24.5">(247)</text><text class="o" x="17.5" y="-10"><tspan class="b">3</tspan>,4</text><text class="e" transform="rotate(-55)" y="-30" style="fill:#6d6d6f">1,28</text><text class="t" transform="translate(24.5,-20.8) rotate(6)" y="1.7" fill="#111">A</text><text class="c" fill="#222"><textPath href="#cp" startOffset="50%"><tspan class="i">[Rn]</tspan>5f<tspan dy="-1.7" font-size="3.6">7</tspan><tspan dy="1.7"> 6d</tspan><tspan dy="-1.7" font-size="3.6">1</tspan><tspan dy="1.7"> 7s</tspan><tspan dy="-1.7" font-size="3.6">2</tspan></textPath></text></g>
<g transform="translate(893.86,874.9)"><circle r="31.55" class="r" stroke="#c6c6c6" fill="#fff"/><use href="#ar" stroke="#8e8e90"/><text class="n" fill="#a8006d" x="-20.2" y="-9.6">97</text><text class="s" fill="#a8006d" y="9.6">Bk</text><text class="m" y="18.2">Berkelium</text><text class="w" y="24.5">(247)</text><text class="o" x="17.5" y="-10"><tspan class="b">3</tspan>,4</text><text class="e" transform="rotate(-55)" y="-30" style="fill:#6d6d6f">1,3</text><text class="t" transform="translate(24.5,-20.8) rotate(6)" y="1.7" fill="#111">A</text><text class="c" fill="#222"><textPath href="#cp" startOffset="50%"><tspan class="i">[Rn]</tspan>5f<tspan dy="-1.7" font-size="3.6">9</tspan><tspan dy="1.7"> 7s</tspan><tspan dy="-1.7" font-size="3.6">2</tspan></textPath></text></g>
<g transform="translate(967.23,874.9)"><circle r="31.55" class="r" stroke="#c6c6c6" fill="#fff"/><use href="#ar" stroke="#8e8e90"/><text class="n" fill="#a8006d" x="-20.2" y="-9.6">98</text><text class="s" fill="#a8006d" y="9.6">Cf</text><text class="m" y="18.2" textLength="40.87" lengthAdjust="spacingAndGlyphs">Californium</text><text class="w" y="24.5">(251)</text><text class="o" x="17.5" y="-10"><tspan class="b">3</tspan>,4</text><text class="e" transform="rotate(-55)" y="-30" style="fill:#6d6d6f">1,3</text><text class="t" transform="translate(24.5,-20.8) rotate(6)" y="1.7" fill="#111">A</text><text class="c" fill="#222"><textPath href="#cp" startOffset="50%"><tspan class="i">[Rn]</tspan>5f<tspan dy="-1.7" font-size="3.6">10</tspan><tspan dy="1.7"> 7s</tspan><tspan dy="-1.7" font-size="3.6">2</tspan></textPath></text></g>
<g transform="translate(1040.6,874.9)"><circle r="31.55" class="r" stroke="#c6c6c6" fill="#fff"/><use href="#ar" stroke="#8e8e90"/><text class="n" fill="#a8006d" x="-20.2" y="-9.6">99</text><text class="s" fill="#a8006d" y="9.6">Es</text><text class="m" y="18.2" textLength="41.2" lengthAdjust="spacingAndGlyphs">Einsteinium</text><text class="w" y="24.5">(252)</text><text class="o" x="17.5" y="-10"><tspan class="b">3</tspan></text><text class="e" transform="rotate(-55)" y="-30" style="fill:#6d6d6f">1,3</text><text class="t" transform="translate(24.5,-20.8) rotate(6)" y="1.7" fill="#111">A</text><text class="c" fill="#222"><textPath href="#cp" startOffset="50%"><tspan class="i">[Rn]</tspan>5f<tspan dy="-1.7" font-size="3.6">11</tspan><tspan dy="1.7"> 7s</tspan><tspan dy="-1.7" font-size="3.6">2</tspan></textPath></text></g>
<g transform="translate(1113.97,874.9)"><circle r="31.55" class="r" stroke="#c6c6c6" fill="#fff"/><use href="#ar" stroke="#8e8e90"/><text class="n" fill="#a8006d" x="-21.6" y="-9.6">100</text><text class="s" fill="#a8006d" y="9.6">Fm</text><text class="m" y="18.2">Fermium</text><text class="w" y="24.5">(257)</text><text class="o" x="17.5" y="-10"><tspan class="b">3</tspan></text><text class="e" transform="rotate(-55)" y="-30" style="fill:#6d6d6f">1,3</text><text class="t" transform="translate(24.5,-20.8) rotate(6)" y="1.7" fill="#111">A</text><text class="c" fill="#222"><textPath href="#cp" startOffset="50%"><tspan class="i">[Rn]</tspan>5f<tspan dy="-1.7" font-size="3.6">12</tspan><tspan dy="1.7"> 7s</tspan><tspan dy="-1.7" font-size="3.6">2</tspan></textPath></text></g>
<g transform="translate(1187.34,874.9)"><circle r="31.55" class="r" stroke="#c6c6c6" fill="#fff"/><use href="#ar" stroke="#8e8e90"/><text class="n" fill="#a8006d" x="-21.6" y="-9.6">101</text><text class="s" fill="#a8006d" y="9.6">Md</text><text class="m" y="18.2" textLength="43.49" lengthAdjust="spacingAndGlyphs">Mendelevium</text><text class="w" y="24.5">(258)</text><text class="o" x="17.5" y="-10"><tspan class="b">3</tspan></text><text class="e" transform="rotate(-55)" y="-30" style="fill:#6d6d6f">1,3</text><text class="t" transform="translate(24.5,-20.8) rotate(6)" y="1.7" fill="#111">A</text><text class="c" fill="#222"><textPath href="#cp" startOffset="50%"><tspan class="i">[Rn]</tspan>5f<tspan dy="-1.7" font-size="3.6">13</tspan><tspan dy="1.7"> 7s</tspan><tspan dy="-1.7" font-size="3.6">2</tspan></textPath></text></g>
<g transform="translate(1260.71,874.9)"><circle r="31.55" class="r" stroke="#c6c6c6" fill="#fff"/><use href="#ar" stroke="#8e8e90"/><text class="n" fill="#a8006d" x="-21.6" y="-9.6">102</text><text class="s" fill="#a8006d" y="9.6">No</text><text class="m" y="18.2">Nobelium</text><text class="w" y="24.5">(259)</text><text class="o" x="17.5" y="-10">2,<tspan class="b">3</tspan></text><text class="e" transform="rotate(-55)" y="-30" style="fill:#6d6d6f">1,3</text><text class="t" transform="translate(24.5,-20.8) rotate(6)" y="1.7" fill="#111">A</text><text class="c" fill="#222"><textPath href="#cp" startOffset="50%"><tspan class="i">[Rn]</tspan>5f<tspan dy="-1.7" font-size="3.6">14</tspan><tspan dy="1.7"> 7s</tspan><tspan dy="-1.7" font-size="3.6">2</tspan></textPath></text></g>
<g transform="translate(1334.08,874.9)"><circle r="31.55" class="r" stroke="#c6c6c6" fill="#fff"/><use href="#ar" stroke="#8e8e90"/><text class="n" fill="#a8006d" x="-21.6" y="-9.6">103</text><text class="s" fill="#a8006d" y="9.6">Lr</text><text class="m" y="18.2" style="fill:#a8006d" textLength="41.85" lengthAdjust="spacingAndGlyphs">Lawrencium</text><text class="w" y="24.5" style="fill:#a8006d">(266)</text><text class="o" x="17.5" y="-10"><tspan class="b">3</tspan></text><text class="e" transform="rotate(-55)" y="-30" style="fill:#6d6d6f">1,3</text><text class="t" transform="translate(24.5,-20.8) rotate(6)" y="1.7" fill="#111">A</text><text class="c" fill="#222"><textPath href="#cp" startOffset="50%"><tspan class="i">[Rn]</tspan>5f<tspan dy="-1.7" font-size="3.6">14</tspan><tspan dy="1.7"> 7s</tspan><tspan dy="-1.7" font-size="3.6">2</tspan><tspan dy="1.7"> 7p</tspan><tspan dy="-1.7" font-size="3.6">1</tspan></textPath></text></g>
<g font-size="12" fill="#333" text-anchor="middle">
<text x="45" y="210.5">1</text>
<text x="45" y="285.4">2</text>
<text x="45" y="361.7">3</text>
<text x="45" y="438.1">4</text>
<text x="45" y="514.9">5</text>
<text x="45" y="591.4">6</text>
<text x="45" y="668.5">7</text>
<text x="85.7" y="719.4">1</text>
<text x="162.3" y="719.4">2</text>
<text x="234.4" y="719.4">3</text>
<text x="308" y="719.4">4</text>
<text x="379.4" y="719.4">5</text>
<text x="454.5" y="719.4">6</text>
<text x="527.3" y="719.4">7</text>
<text x="603" y="719.4">8</text>
<text x="676.7" y="719.4">9</text>
<text x="747.3" y="719.4">10</text>
<text x="821.1" y="719.4">11</text>
<text x="895.1" y="719.4">12</text>
<text x="971.4" y="719.4">13</text>
<text x="1043.9" y="719.4">14</text>
<text x="1116.2" y="719.4">15</text>
<text x="1189.3" y="719.4">16</text>
<text x="1262.5" y="719.4">17</text>
<text x="1335.7" y="719.4">18</text>
</g>
<text transform="translate(49,705.5) rotate(-90)" font-size="10" font-weight="bold" fill="#222" textLength="25.5" lengthAdjust="spacingAndGlyphs">Period</text>
<text x="49" y="716.8" font-size="10" font-weight="bold" fill="#222" textLength="24" lengthAdjust="spacingAndGlyphs">Group</text>
<rect x="223.3" y="571.4" width="23.4" height="314.8" rx="10.5" fill="none" stroke="#333" stroke-width=".8" stroke-dasharray="1.25 1.15"/>
<g font-size="11.8" font-weight="bold" fill="#222" text-anchor="middle">
<text x="235" y="590.8">L</text><text x="235" y="666.6">A</text><text x="235" y="799.6">L</text><text x="235" y="875.3">A</text>
</g>
<text x="56.3" y="781" font-size="36.5" font-weight="bold" fill="#1f5ba3" textLength="150.5" lengthAdjust="spacingAndGlyphs">Scharlab</text>
<rect x="65.5" y="751" width="3.9" height="19.5" fill="#fff"/><ellipse cx="68" cy="775.1" rx="5.9" ry="3.3" fill="#fff"/>
<g fill="#f58a3c"><rect x="66.2" y="744" width="1.7" height="1.7" fill="#fbc9a4"/><rect x="63.9" y="747.2" width="1.9" height="1.9" fill="#f8a468"/><rect x="68" y="749.1" width="2" height="2"/><ellipse cx="68" cy="775.4" rx="5" ry="1.9"/></g>
<text x="57" y="796.8" font-size="7.6" font-weight="bold" fill="#f58a3c" textLength="149.8" lengthAdjust="spacing">THE LAB SOURCING GROUP</text>
<g font-size="14.2" font-weight="bold" fill="#222" text-anchor="middle"><text x="131.7" y="823.8">Subscribe</text><text x="131.7" y="837.9">to our Newsletter</text></g>
<path d="M92.1 846.3h2.22v2.22h-2.22zM94.51 846.3h2.22v2.22h-2.22zM96.92 846.3h2.22v2.22h-2.22zM99.34 846.3h2.22v2.22h-2.22zM101.75 846.3h2.22v2.22h-2.22zM104.16 846.3h2.22v2.22h-2.22zM106.57 846.3h2.22v2.22h-2.22zM111.4 846.3h2.22v2.22h-2.22zM113.81 846.3h2.22v2.22h-2.22zM116.22 846.3h2.22v2.22h-2.22zM118.63 846.3h2.22v2.22h-2.22zM121.05 846.3h2.22v2.22h-2.22zM125.87 846.3h2.22v2.22h-2.22zM128.28 846.3h2.22v2.22h-2.22zM137.93 846.3h2.22v2.22h-2.22zM142.75 846.3h2.22v2.22h-2.22zM147.58 846.3h2.22v2.22h-2.22zM149.99 846.3h2.22v2.22h-2.22zM154.82 846.3h2.22v2.22h-2.22zM157.23 846.3h2.22v2.22h-2.22zM159.64 846.3h2.22v2.22h-2.22zM162.05 846.3h2.22v2.22h-2.22zM164.46 846.3h2.22v2.22h-2.22zM166.88 846.3h2.22v2.22h-2.22zM169.29 846.3h2.22v2.22h-2.22zM92.1 848.71h2.22v2.22h-2.22zM106.57 848.71h2.22v2.22h-2.22zM111.4 848.71h2.22v2.22h-2.22zM118.63 848.71h2.22v2.22h-2.22zM123.46 848.71h2.22v2.22h-2.22zM130.69 848.71h2.22v2.22h-2.22zM135.52 848.71h2.22v2.22h-2.22zM137.93 848.71h2.22v2.22h-2.22zM142.75 848.71h2.22v2.22h-2.22zM145.17 848.71h2.22v2.22h-2.22zM147.58 848.71h2.22v2.22h-2.22zM154.82 848.71h2.22v2.22h-2.22zM169.29 848.71h2.22v2.22h-2.22zM92.1 851.12h2.22v2.22h-2.22zM96.92 851.12h2.22v2.22h-2.22zM99.34 851.12h2.22v2.22h-2.22zM101.75 851.12h2.22v2.22h-2.22zM106.57 851.12h2.22v2.22h-2.22zM113.81 851.12h2.22v2.22h-2.22zM116.22 851.12h2.22v2.22h-2.22zM121.05 851.12h2.22v2.22h-2.22zM123.46 851.12h2.22v2.22h-2.22zM125.87 851.12h2.22v2.22h-2.22zM128.28 851.12h2.22v2.22h-2.22zM130.69 851.12h2.22v2.22h-2.22zM135.52 851.12h2.22v2.22h-2.22zM137.93 851.12h2.22v2.22h-2.22zM140.34 851.12h2.22v2.22h-2.22zM145.17 851.12h2.22v2.22h-2.22zM147.58 851.12h2.22v2.22h-2.22zM149.99 851.12h2.22v2.22h-2.22zM154.82 851.12h2.22v2.22h-2.22zM159.64 851.12h2.22v2.22h-2.22zM162.05 851.12h2.22v2.22h-2.22zM164.46 851.12h2.22v2.22h-2.22zM169.29 851.12h2.22v2.22h-2.22zM92.1 853.54h2.22v2.22h-2.22zM96.92 853.54h2.22v2.22h-2.22zM99.34 853.54h2.22v2.22h-2.22zM101.75 853.54h2.22v2.22h-2.22zM106.57 853.54h2.22v2.22h-2.22zM111.4 853.54h2.22v2.22h-2.22zM113.81 853.54h2.22v2.22h-2.22zM123.46 853.54h2.22v2.22h-2.22zM130.69 853.54h2.22v2.22h-2.22zM142.75 853.54h2.22v2.22h-2.22zM145.17 853.54h2.22v2.22h-2.22zM147.58 853.54h2.22v2.22h-2.22zM154.82 853.54h2.22v2.22h-2.22zM159.64 853.54h2.22v2.22h-2.22zM162.05 853.54h2.22v2.22h-2.22zM164.46 853.54h2.22v2.22h-2.22zM169.29 853.54h2.22v2.22h-2.22zM92.1 855.95h2.22v2.22h-2.22zM96.92 855.95h2.22v2.22h-2.22zM99.34 855.95h2.22v2.22h-2.22zM101.75 855.95h2.22v2.22h-2.22zM106.57 855.95h2.22v2.22h-2.22zM111.4 855.95h2.22v2.22h-2.22zM113.81 855.95h2.22v2.22h-2.22zM121.05 855.95h2.22v2.22h-2.22zM123.46 855.95h2.22v2.22h-2.22zM125.87 855.95h2.22v2.22h-2.22zM128.28 855.95h2.22v2.22h-2.22zM130.69 855.95h2.22v2.22h-2.22zM133.11 855.95h2.22v2.22h-2.22zM137.93 855.95h2.22v2.22h-2.22zM140.34 855.95h2.22v2.22h-2.22zM145.17 855.95h2.22v2.22h-2.22zM147.58 855.95h2.22v2.22h-2.22zM149.99 855.95h2.22v2.22h-2.22zM154.82 855.95h2.22v2.22h-2.22zM159.64 855.95h2.22v2.22h-2.22zM162.05 855.95h2.22v2.22h-2.22zM164.46 855.95h2.22v2.22h-2.22zM169.29 855.95h2.22v2.22h-2.22zM92.1 858.36h2.22v2.22h-2.22zM106.57 858.36h2.22v2.22h-2.22zM118.63 858.36h2.22v2.22h-2.22zM121.05 858.36h2.22v2.22h-2.22zM123.46 858.36h2.22v2.22h-2.22zM125.87 858.36h2.22v2.22h-2.22zM128.28 858.36h2.22v2.22h-2.22zM130.69 858.36h2.22v2.22h-2.22zM133.11 858.36h2.22v2.22h-2.22zM140.34 858.36h2.22v2.22h-2.22zM149.99 858.36h2.22v2.22h-2.22zM154.82 858.36h2.22v2.22h-2.22zM169.29 858.36h2.22v2.22h-2.22zM92.1 860.77h2.22v2.22h-2.22zM94.51 860.77h2.22v2.22h-2.22zM96.92 860.77h2.22v2.22h-2.22zM99.34 860.77h2.22v2.22h-2.22zM101.75 860.77h2.22v2.22h-2.22zM104.16 860.77h2.22v2.22h-2.22zM106.57 860.77h2.22v2.22h-2.22zM111.4 860.77h2.22v2.22h-2.22zM116.22 860.77h2.22v2.22h-2.22zM121.05 860.77h2.22v2.22h-2.22zM125.87 860.77h2.22v2.22h-2.22zM130.69 860.77h2.22v2.22h-2.22zM135.52 860.77h2.22v2.22h-2.22zM140.34 860.77h2.22v2.22h-2.22zM145.17 860.77h2.22v2.22h-2.22zM149.99 860.77h2.22v2.22h-2.22zM154.82 860.77h2.22v2.22h-2.22zM157.23 860.77h2.22v2.22h-2.22zM159.64 860.77h2.22v2.22h-2.22zM162.05 860.77h2.22v2.22h-2.22zM164.46 860.77h2.22v2.22h-2.22zM166.88 860.77h2.22v2.22h-2.22zM169.29 860.77h2.22v2.22h-2.22zM113.81 863.18h2.22v2.22h-2.22zM116.22 863.18h2.22v2.22h-2.22zM118.63 863.18h2.22v2.22h-2.22zM123.46 863.18h2.22v2.22h-2.22zM125.87 863.18h2.22v2.22h-2.22zM133.11 863.18h2.22v2.22h-2.22zM137.93 863.18h2.22v2.22h-2.22zM140.34 863.18h2.22v2.22h-2.22zM142.75 863.18h2.22v2.22h-2.22zM145.17 863.18h2.22v2.22h-2.22zM147.58 863.18h2.22v2.22h-2.22zM149.99 863.18h2.22v2.22h-2.22zM96.92 865.6h2.22v2.22h-2.22zM101.75 865.6h2.22v2.22h-2.22zM104.16 865.6h2.22v2.22h-2.22zM106.57 865.6h2.22v2.22h-2.22zM108.98 865.6h2.22v2.22h-2.22zM118.63 865.6h2.22v2.22h-2.22zM123.46 865.6h2.22v2.22h-2.22zM125.87 865.6h2.22v2.22h-2.22zM130.69 865.6h2.22v2.22h-2.22zM133.11 865.6h2.22v2.22h-2.22zM135.52 865.6h2.22v2.22h-2.22zM147.58 865.6h2.22v2.22h-2.22zM157.23 865.6h2.22v2.22h-2.22zM159.64 865.6h2.22v2.22h-2.22zM162.05 865.6h2.22v2.22h-2.22zM164.46 865.6h2.22v2.22h-2.22zM166.88 865.6h2.22v2.22h-2.22zM169.29 865.6h2.22v2.22h-2.22zM99.34 868.01h2.22v2.22h-2.22zM113.81 868.01h2.22v2.22h-2.22zM118.63 868.01h2.22v2.22h-2.22zM121.05 868.01h2.22v2.22h-2.22zM128.28 868.01h2.22v2.22h-2.22zM130.69 868.01h2.22v2.22h-2.22zM133.11 868.01h2.22v2.22h-2.22zM135.52 868.01h2.22v2.22h-2.22zM137.93 868.01h2.22v2.22h-2.22zM140.34 868.01h2.22v2.22h-2.22zM145.17 868.01h2.22v2.22h-2.22zM149.99 868.01h2.22v2.22h-2.22zM152.4 868.01h2.22v2.22h-2.22zM154.82 868.01h2.22v2.22h-2.22zM159.64 868.01h2.22v2.22h-2.22zM162.05 868.01h2.22v2.22h-2.22zM92.1 870.42h2.22v2.22h-2.22zM94.51 870.42h2.22v2.22h-2.22zM96.92 870.42h2.22v2.22h-2.22zM101.75 870.42h2.22v2.22h-2.22zM104.16 870.42h2.22v2.22h-2.22zM106.57 870.42h2.22v2.22h-2.22zM113.81 870.42h2.22v2.22h-2.22zM116.22 870.42h2.22v2.22h-2.22zM125.87 870.42h2.22v2.22h-2.22zM128.28 870.42h2.22v2.22h-2.22zM133.11 870.42h2.22v2.22h-2.22zM135.52 870.42h2.22v2.22h-2.22zM145.17 870.42h2.22v2.22h-2.22zM149.99 870.42h2.22v2.22h-2.22zM154.82 870.42h2.22v2.22h-2.22zM157.23 870.42h2.22v2.22h-2.22zM164.46 870.42h2.22v2.22h-2.22zM166.88 870.42h2.22v2.22h-2.22zM169.29 870.42h2.22v2.22h-2.22zM92.1 872.83h2.22v2.22h-2.22zM94.51 872.83h2.22v2.22h-2.22zM96.92 872.83h2.22v2.22h-2.22zM99.34 872.83h2.22v2.22h-2.22zM101.75 872.83h2.22v2.22h-2.22zM104.16 872.83h2.22v2.22h-2.22zM111.4 872.83h2.22v2.22h-2.22zM113.81 872.83h2.22v2.22h-2.22zM116.22 872.83h2.22v2.22h-2.22zM118.63 872.83h2.22v2.22h-2.22zM121.05 872.83h2.22v2.22h-2.22zM123.46 872.83h2.22v2.22h-2.22zM125.87 872.83h2.22v2.22h-2.22zM133.11 872.83h2.22v2.22h-2.22zM135.52 872.83h2.22v2.22h-2.22zM140.34 872.83h2.22v2.22h-2.22zM145.17 872.83h2.22v2.22h-2.22zM147.58 872.83h2.22v2.22h-2.22zM152.4 872.83h2.22v2.22h-2.22zM154.82 872.83h2.22v2.22h-2.22zM162.05 872.83h2.22v2.22h-2.22zM92.1 875.25h2.22v2.22h-2.22zM94.51 875.25h2.22v2.22h-2.22zM96.92 875.25h2.22v2.22h-2.22zM99.34 875.25h2.22v2.22h-2.22zM101.75 875.25h2.22v2.22h-2.22zM106.57 875.25h2.22v2.22h-2.22zM108.98 875.25h2.22v2.22h-2.22zM111.4 875.25h2.22v2.22h-2.22zM121.05 875.25h2.22v2.22h-2.22zM123.46 875.25h2.22v2.22h-2.22zM125.87 875.25h2.22v2.22h-2.22zM128.28 875.25h2.22v2.22h-2.22zM130.69 875.25h2.22v2.22h-2.22zM133.11 875.25h2.22v2.22h-2.22zM135.52 875.25h2.22v2.22h-2.22zM142.75 875.25h2.22v2.22h-2.22zM145.17 875.25h2.22v2.22h-2.22zM149.99 875.25h2.22v2.22h-2.22zM152.4 875.25h2.22v2.22h-2.22zM154.82 875.25h2.22v2.22h-2.22zM157.23 875.25h2.22v2.22h-2.22zM159.64 875.25h2.22v2.22h-2.22zM162.05 875.25h2.22v2.22h-2.22zM164.46 875.25h2.22v2.22h-2.22zM166.88 875.25h2.22v2.22h-2.22zM169.29 875.25h2.22v2.22h-2.22zM92.1 877.66h2.22v2.22h-2.22zM94.51 877.66h2.22v2.22h-2.22zM96.92 877.66h2.22v2.22h-2.22zM99.34 877.66h2.22v2.22h-2.22zM101.75 877.66h2.22v2.22h-2.22zM104.16 877.66h2.22v2.22h-2.22zM111.4 877.66h2.22v2.22h-2.22zM123.46 877.66h2.22v2.22h-2.22zM125.87 877.66h2.22v2.22h-2.22zM130.69 877.66h2.22v2.22h-2.22zM137.93 877.66h2.22v2.22h-2.22zM152.4 877.66h2.22v2.22h-2.22zM154.82 877.66h2.22v2.22h-2.22zM157.23 877.66h2.22v2.22h-2.22zM96.92 880.07h2.22v2.22h-2.22zM99.34 880.07h2.22v2.22h-2.22zM101.75 880.07h2.22v2.22h-2.22zM104.16 880.07h2.22v2.22h-2.22zM106.57 880.07h2.22v2.22h-2.22zM121.05 880.07h2.22v2.22h-2.22zM123.46 880.07h2.22v2.22h-2.22zM130.69 880.07h2.22v2.22h-2.22zM133.11 880.07h2.22v2.22h-2.22zM137.93 880.07h2.22v2.22h-2.22zM142.75 880.07h2.22v2.22h-2.22zM145.17 880.07h2.22v2.22h-2.22zM147.58 880.07h2.22v2.22h-2.22zM152.4 880.07h2.22v2.22h-2.22zM159.64 880.07h2.22v2.22h-2.22zM162.05 880.07h2.22v2.22h-2.22zM164.46 880.07h2.22v2.22h-2.22zM96.92 882.48h2.22v2.22h-2.22zM99.34 882.48h2.22v2.22h-2.22zM101.75 882.48h2.22v2.22h-2.22zM111.4 882.48h2.22v2.22h-2.22zM113.81 882.48h2.22v2.22h-2.22zM116.22 882.48h2.22v2.22h-2.22zM125.87 882.48h2.22v2.22h-2.22zM128.28 882.48h2.22v2.22h-2.22zM130.69 882.48h2.22v2.22h-2.22zM133.11 882.48h2.22v2.22h-2.22zM135.52 882.48h2.22v2.22h-2.22zM140.34 882.48h2.22v2.22h-2.22zM147.58 882.48h2.22v2.22h-2.22zM149.99 882.48h2.22v2.22h-2.22zM157.23 882.48h2.22v2.22h-2.22zM159.64 882.48h2.22v2.22h-2.22zM162.05 882.48h2.22v2.22h-2.22zM166.88 882.48h2.22v2.22h-2.22zM92.1 884.89h2.22v2.22h-2.22zM94.51 884.89h2.22v2.22h-2.22zM99.34 884.89h2.22v2.22h-2.22zM104.16 884.89h2.22v2.22h-2.22zM106.57 884.89h2.22v2.22h-2.22zM111.4 884.89h2.22v2.22h-2.22zM116.22 884.89h2.22v2.22h-2.22zM118.63 884.89h2.22v2.22h-2.22zM121.05 884.89h2.22v2.22h-2.22zM123.46 884.89h2.22v2.22h-2.22zM125.87 884.89h2.22v2.22h-2.22zM128.28 884.89h2.22v2.22h-2.22zM130.69 884.89h2.22v2.22h-2.22zM133.11 884.89h2.22v2.22h-2.22zM135.52 884.89h2.22v2.22h-2.22zM140.34 884.89h2.22v2.22h-2.22zM147.58 884.89h2.22v2.22h-2.22zM157.23 884.89h2.22v2.22h-2.22zM159.64 884.89h2.22v2.22h-2.22zM162.05 884.89h2.22v2.22h-2.22zM169.29 884.89h2.22v2.22h-2.22zM92.1 887.31h2.22v2.22h-2.22zM94.51 887.31h2.22v2.22h-2.22zM96.92 887.31h2.22v2.22h-2.22zM99.34 887.31h2.22v2.22h-2.22zM104.16 887.31h2.22v2.22h-2.22zM108.98 887.31h2.22v2.22h-2.22zM111.4 887.31h2.22v2.22h-2.22zM113.81 887.31h2.22v2.22h-2.22zM116.22 887.31h2.22v2.22h-2.22zM118.63 887.31h2.22v2.22h-2.22zM135.52 887.31h2.22v2.22h-2.22zM140.34 887.31h2.22v2.22h-2.22zM145.17 887.31h2.22v2.22h-2.22zM152.4 887.31h2.22v2.22h-2.22zM154.82 887.31h2.22v2.22h-2.22zM159.64 887.31h2.22v2.22h-2.22zM162.05 887.31h2.22v2.22h-2.22zM164.46 887.31h2.22v2.22h-2.22zM166.88 887.31h2.22v2.22h-2.22zM94.51 889.72h2.22v2.22h-2.22zM99.34 889.72h2.22v2.22h-2.22zM104.16 889.72h2.22v2.22h-2.22zM106.57 889.72h2.22v2.22h-2.22zM108.98 889.72h2.22v2.22h-2.22zM111.4 889.72h2.22v2.22h-2.22zM116.22 889.72h2.22v2.22h-2.22zM118.63 889.72h2.22v2.22h-2.22zM125.87 889.72h2.22v2.22h-2.22zM128.28 889.72h2.22v2.22h-2.22zM130.69 889.72h2.22v2.22h-2.22zM133.11 889.72h2.22v2.22h-2.22zM135.52 889.72h2.22v2.22h-2.22zM137.93 889.72h2.22v2.22h-2.22zM140.34 889.72h2.22v2.22h-2.22zM142.75 889.72h2.22v2.22h-2.22zM152.4 889.72h2.22v2.22h-2.22zM154.82 889.72h2.22v2.22h-2.22zM157.23 889.72h2.22v2.22h-2.22zM159.64 889.72h2.22v2.22h-2.22zM162.05 889.72h2.22v2.22h-2.22zM164.46 889.72h2.22v2.22h-2.22zM166.88 889.72h2.22v2.22h-2.22zM92.1 892.13h2.22v2.22h-2.22zM94.51 892.13h2.22v2.22h-2.22zM101.75 892.13h2.22v2.22h-2.22zM104.16 892.13h2.22v2.22h-2.22zM108.98 892.13h2.22v2.22h-2.22zM111.4 892.13h2.22v2.22h-2.22zM121.05 892.13h2.22v2.22h-2.22zM123.46 892.13h2.22v2.22h-2.22zM130.69 892.13h2.22v2.22h-2.22zM135.52 892.13h2.22v2.22h-2.22zM137.93 892.13h2.22v2.22h-2.22zM149.99 892.13h2.22v2.22h-2.22zM152.4 892.13h2.22v2.22h-2.22zM154.82 892.13h2.22v2.22h-2.22zM157.23 892.13h2.22v2.22h-2.22zM92.1 894.54h2.22v2.22h-2.22zM96.92 894.54h2.22v2.22h-2.22zM101.75 894.54h2.22v2.22h-2.22zM106.57 894.54h2.22v2.22h-2.22zM108.98 894.54h2.22v2.22h-2.22zM111.4 894.54h2.22v2.22h-2.22zM113.81 894.54h2.22v2.22h-2.22zM121.05 894.54h2.22v2.22h-2.22zM123.46 894.54h2.22v2.22h-2.22zM125.87 894.54h2.22v2.22h-2.22zM130.69 894.54h2.22v2.22h-2.22zM133.11 894.54h2.22v2.22h-2.22zM137.93 894.54h2.22v2.22h-2.22zM140.34 894.54h2.22v2.22h-2.22zM142.75 894.54h2.22v2.22h-2.22zM152.4 894.54h2.22v2.22h-2.22zM154.82 894.54h2.22v2.22h-2.22zM157.23 894.54h2.22v2.22h-2.22zM164.46 894.54h2.22v2.22h-2.22zM166.88 894.54h2.22v2.22h-2.22zM169.29 894.54h2.22v2.22h-2.22zM94.51 896.95h2.22v2.22h-2.22zM96.92 896.95h2.22v2.22h-2.22zM104.16 896.95h2.22v2.22h-2.22zM108.98 896.95h2.22v2.22h-2.22zM111.4 896.95h2.22v2.22h-2.22zM116.22 896.95h2.22v2.22h-2.22zM123.46 896.95h2.22v2.22h-2.22zM125.87 896.95h2.22v2.22h-2.22zM130.69 896.95h2.22v2.22h-2.22zM135.52 896.95h2.22v2.22h-2.22zM137.93 896.95h2.22v2.22h-2.22zM142.75 896.95h2.22v2.22h-2.22zM147.58 896.95h2.22v2.22h-2.22zM149.99 896.95h2.22v2.22h-2.22zM152.4 896.95h2.22v2.22h-2.22zM154.82 896.95h2.22v2.22h-2.22zM162.05 896.95h2.22v2.22h-2.22zM164.46 896.95h2.22v2.22h-2.22zM166.88 896.95h2.22v2.22h-2.22zM92.1 899.37h2.22v2.22h-2.22zM94.51 899.37h2.22v2.22h-2.22zM96.92 899.37h2.22v2.22h-2.22zM99.34 899.37h2.22v2.22h-2.22zM106.57 899.37h2.22v2.22h-2.22zM113.81 899.37h2.22v2.22h-2.22zM116.22 899.37h2.22v2.22h-2.22zM123.46 899.37h2.22v2.22h-2.22zM128.28 899.37h2.22v2.22h-2.22zM130.69 899.37h2.22v2.22h-2.22zM133.11 899.37h2.22v2.22h-2.22zM135.52 899.37h2.22v2.22h-2.22zM137.93 899.37h2.22v2.22h-2.22zM140.34 899.37h2.22v2.22h-2.22zM142.75 899.37h2.22v2.22h-2.22zM147.58 899.37h2.22v2.22h-2.22zM152.4 899.37h2.22v2.22h-2.22zM154.82 899.37h2.22v2.22h-2.22zM162.05 899.37h2.22v2.22h-2.22zM164.46 899.37h2.22v2.22h-2.22zM166.88 899.37h2.22v2.22h-2.22zM169.29 899.37h2.22v2.22h-2.22zM94.51 901.78h2.22v2.22h-2.22zM96.92 901.78h2.22v2.22h-2.22zM101.75 901.78h2.22v2.22h-2.22zM104.16 901.78h2.22v2.22h-2.22zM111.4 901.78h2.22v2.22h-2.22zM113.81 901.78h2.22v2.22h-2.22zM116.22 901.78h2.22v2.22h-2.22zM121.05 901.78h2.22v2.22h-2.22zM128.28 901.78h2.22v2.22h-2.22zM130.69 901.78h2.22v2.22h-2.22zM137.93 901.78h2.22v2.22h-2.22zM142.75 901.78h2.22v2.22h-2.22zM145.17 901.78h2.22v2.22h-2.22zM147.58 901.78h2.22v2.22h-2.22zM159.64 901.78h2.22v2.22h-2.22zM162.05 901.78h2.22v2.22h-2.22zM164.46 901.78h2.22v2.22h-2.22zM92.1 904.19h2.22v2.22h-2.22zM94.51 904.19h2.22v2.22h-2.22zM96.92 904.19h2.22v2.22h-2.22zM99.34 904.19h2.22v2.22h-2.22zM104.16 904.19h2.22v2.22h-2.22zM106.57 904.19h2.22v2.22h-2.22zM118.63 904.19h2.22v2.22h-2.22zM121.05 904.19h2.22v2.22h-2.22zM123.46 904.19h2.22v2.22h-2.22zM128.28 904.19h2.22v2.22h-2.22zM130.69 904.19h2.22v2.22h-2.22zM135.52 904.19h2.22v2.22h-2.22zM137.93 904.19h2.22v2.22h-2.22zM140.34 904.19h2.22v2.22h-2.22zM145.17 904.19h2.22v2.22h-2.22zM149.99 904.19h2.22v2.22h-2.22zM152.4 904.19h2.22v2.22h-2.22zM154.82 904.19h2.22v2.22h-2.22zM157.23 904.19h2.22v2.22h-2.22zM159.64 904.19h2.22v2.22h-2.22zM162.05 904.19h2.22v2.22h-2.22zM166.88 904.19h2.22v2.22h-2.22zM169.29 904.19h2.22v2.22h-2.22zM111.4 906.6h2.22v2.22h-2.22zM116.22 906.6h2.22v2.22h-2.22zM121.05 906.6h2.22v2.22h-2.22zM123.46 906.6h2.22v2.22h-2.22zM125.87 906.6h2.22v2.22h-2.22zM128.28 906.6h2.22v2.22h-2.22zM135.52 906.6h2.22v2.22h-2.22zM137.93 906.6h2.22v2.22h-2.22zM142.75 906.6h2.22v2.22h-2.22zM145.17 906.6h2.22v2.22h-2.22zM149.99 906.6h2.22v2.22h-2.22zM159.64 906.6h2.22v2.22h-2.22zM166.88 906.6h2.22v2.22h-2.22zM169.29 906.6h2.22v2.22h-2.22zM92.1 909.02h2.22v2.22h-2.22zM94.51 909.02h2.22v2.22h-2.22zM96.92 909.02h2.22v2.22h-2.22zM99.34 909.02h2.22v2.22h-2.22zM101.75 909.02h2.22v2.22h-2.22zM104.16 909.02h2.22v2.22h-2.22zM106.57 909.02h2.22v2.22h-2.22zM111.4 909.02h2.22v2.22h-2.22zM118.63 909.02h2.22v2.22h-2.22zM125.87 909.02h2.22v2.22h-2.22zM128.28 909.02h2.22v2.22h-2.22zM130.69 909.02h2.22v2.22h-2.22zM133.11 909.02h2.22v2.22h-2.22zM135.52 909.02h2.22v2.22h-2.22zM142.75 909.02h2.22v2.22h-2.22zM145.17 909.02h2.22v2.22h-2.22zM147.58 909.02h2.22v2.22h-2.22zM149.99 909.02h2.22v2.22h-2.22zM154.82 909.02h2.22v2.22h-2.22zM159.64 909.02h2.22v2.22h-2.22zM162.05 909.02h2.22v2.22h-2.22zM164.46 909.02h2.22v2.22h-2.22zM166.88 909.02h2.22v2.22h-2.22zM169.29 909.02h2.22v2.22h-2.22zM92.1 911.43h2.22v2.22h-2.22zM106.57 911.43h2.22v2.22h-2.22zM113.81 911.43h2.22v2.22h-2.22zM118.63 911.43h2.22v2.22h-2.22zM121.05 911.43h2.22v2.22h-2.22zM128.28 911.43h2.22v2.22h-2.22zM130.69 911.43h2.22v2.22h-2.22zM135.52 911.43h2.22v2.22h-2.22zM137.93 911.43h2.22v2.22h-2.22zM142.75 911.43h2.22v2.22h-2.22zM147.58 911.43h2.22v2.22h-2.22zM149.99 911.43h2.22v2.22h-2.22zM159.64 911.43h2.22v2.22h-2.22zM166.88 911.43h2.22v2.22h-2.22zM92.1 913.84h2.22v2.22h-2.22zM96.92 913.84h2.22v2.22h-2.22zM99.34 913.84h2.22v2.22h-2.22zM101.75 913.84h2.22v2.22h-2.22zM106.57 913.84h2.22v2.22h-2.22zM116.22 913.84h2.22v2.22h-2.22zM118.63 913.84h2.22v2.22h-2.22zM125.87 913.84h2.22v2.22h-2.22zM128.28 913.84h2.22v2.22h-2.22zM133.11 913.84h2.22v2.22h-2.22zM142.75 913.84h2.22v2.22h-2.22zM147.58 913.84h2.22v2.22h-2.22zM149.99 913.84h2.22v2.22h-2.22zM152.4 913.84h2.22v2.22h-2.22zM154.82 913.84h2.22v2.22h-2.22zM157.23 913.84h2.22v2.22h-2.22zM159.64 913.84h2.22v2.22h-2.22zM162.05 913.84h2.22v2.22h-2.22zM164.46 913.84h2.22v2.22h-2.22zM166.88 913.84h2.22v2.22h-2.22zM169.29 913.84h2.22v2.22h-2.22zM92.1 916.25h2.22v2.22h-2.22zM96.92 916.25h2.22v2.22h-2.22zM99.34 916.25h2.22v2.22h-2.22zM101.75 916.25h2.22v2.22h-2.22zM106.57 916.25h2.22v2.22h-2.22zM111.4 916.25h2.22v2.22h-2.22zM121.05 916.25h2.22v2.22h-2.22zM123.46 916.25h2.22v2.22h-2.22zM128.28 916.25h2.22v2.22h-2.22zM133.11 916.25h2.22v2.22h-2.22zM135.52 916.25h2.22v2.22h-2.22zM137.93 916.25h2.22v2.22h-2.22zM142.75 916.25h2.22v2.22h-2.22zM145.17 916.25h2.22v2.22h-2.22zM152.4 916.25h2.22v2.22h-2.22zM154.82 916.25h2.22v2.22h-2.22zM157.23 916.25h2.22v2.22h-2.22zM159.64 916.25h2.22v2.22h-2.22zM162.05 916.25h2.22v2.22h-2.22zM164.46 916.25h2.22v2.22h-2.22zM166.88 916.25h2.22v2.22h-2.22zM169.29 916.25h2.22v2.22h-2.22zM92.1 918.66h2.22v2.22h-2.22zM96.92 918.66h2.22v2.22h-2.22zM99.34 918.66h2.22v2.22h-2.22zM101.75 918.66h2.22v2.22h-2.22zM106.57 918.66h2.22v2.22h-2.22zM111.4 918.66h2.22v2.22h-2.22zM113.81 918.66h2.22v2.22h-2.22zM118.63 918.66h2.22v2.22h-2.22zM130.69 918.66h2.22v2.22h-2.22zM135.52 918.66h2.22v2.22h-2.22zM142.75 918.66h2.22v2.22h-2.22zM149.99 918.66h2.22v2.22h-2.22zM152.4 918.66h2.22v2.22h-2.22zM157.23 918.66h2.22v2.22h-2.22zM162.05 918.66h2.22v2.22h-2.22zM166.88 918.66h2.22v2.22h-2.22zM169.29 918.66h2.22v2.22h-2.22zM92.1 921.08h2.22v2.22h-2.22zM106.57 921.08h2.22v2.22h-2.22zM118.63 921.08h2.22v2.22h-2.22zM123.46 921.08h2.22v2.22h-2.22zM125.87 921.08h2.22v2.22h-2.22zM130.69 921.08h2.22v2.22h-2.22zM142.75 921.08h2.22v2.22h-2.22zM149.99 921.08h2.22v2.22h-2.22zM154.82 921.08h2.22v2.22h-2.22zM162.05 921.08h2.22v2.22h-2.22zM166.88 921.08h2.22v2.22h-2.22zM169.29 921.08h2.22v2.22h-2.22zM92.1 923.49h2.22v2.22h-2.22zM94.51 923.49h2.22v2.22h-2.22zM96.92 923.49h2.22v2.22h-2.22zM99.34 923.49h2.22v2.22h-2.22zM101.75 923.49h2.22v2.22h-2.22zM104.16 923.49h2.22v2.22h-2.22zM106.57 923.49h2.22v2.22h-2.22zM111.4 923.49h2.22v2.22h-2.22zM113.81 923.49h2.22v2.22h-2.22zM116.22 923.49h2.22v2.22h-2.22zM118.63 923.49h2.22v2.22h-2.22zM123.46 923.49h2.22v2.22h-2.22zM125.87 923.49h2.22v2.22h-2.22zM130.69 923.49h2.22v2.22h-2.22zM133.11 923.49h2.22v2.22h-2.22zM137.93 923.49h2.22v2.22h-2.22zM140.34 923.49h2.22v2.22h-2.22zM142.75 923.49h2.22v2.22h-2.22zM145.17 923.49h2.22v2.22h-2.22zM147.58 923.49h2.22v2.22h-2.22zM149.99 923.49h2.22v2.22h-2.22zM157.23 923.49h2.22v2.22h-2.22zM162.05 923.49h2.22v2.22h-2.22zM164.46 923.49h2.22v2.22h-2.22zM169.29 923.49h2.22v2.22h-2.22z" fill="#1a1a1a"/>
<text x="131.5" y="946.3" font-size="9.3" fill="#333" text-anchor="middle">TABLA-0024</text>
<text x="240.6" y="928.8" font-size="7.9" font-weight="bold" fill="#333">Notes:</text>
<g font-size="7.94" fill="#5a5a5a">
<text x="274.5" y="926.5" font-size="4.5">A</text><text x="274.5" y="935.4" font-size="4.5">B</text><text x="275" y="946.6" font-size="6">*</text>
<text x="281.8" y="928.8" textLength="765" lengthAdjust="spacingAndGlyphs">Radioactive elements/non stable isotopes. The bracketed atomic weights are from the most stable isotope. Th, Pa, and U have a characteristic terrestrial isotopic composition, and for them an atomic weight is tabulated.</text>
<text x="281.8" y="937.7">The IUPAC published the atomic weight of these elements as an interval [8/12/2015]. The values given are the conventional ones.</text>
<text x="281.8" y="946.6">Electronic configurations of elements 109 and above are uncertain or not available. A probable electronic configuration is given for them.</text>
<text x="274.5" y="955.5">( )For elements with no stable isotopes, the mass number of the isotope with the longest half-life is in parentheses.</text>
</g>
<g font-size="11.1" fill="#555"><text x="1119" y="955" textLength="95.5" lengthAdjust="spacingAndGlyphs">www.scharlab.com</text><text x="1233.7" y="955" textLength="121.7" lengthAdjust="spacingAndGlyphs">helpdesk@scharlab.com</text></g>
<rect x="1224.6" y="945.2" width=".9" height="12" fill="#666"/>
</svg></body></html>
